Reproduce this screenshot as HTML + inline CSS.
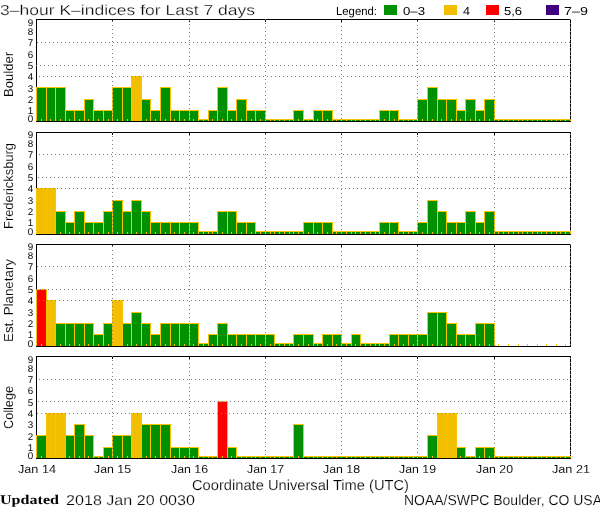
<!DOCTYPE html>
<html><head><meta charset="utf-8"><title>3-hour K-indices for Last 7 days</title><style>
html,body{margin:0;padding:0;background:#fff;width:600px;height:510px;overflow:hidden}
svg{display:block;will-change:transform}
rect,path{shape-rendering:crispEdges}
text{text-rendering:geometricPrecision}

</style></head><body>
<svg width="600" height="510" viewBox="0 0 600 510" font-family="&quot;Liberation Sans&quot;, sans-serif" fill="#000">
<!-- Boulder -->
<rect x="36" y="19" width="535" height="1" fill="#000"/>
<rect x="36" y="19" width="1" height="103" fill="#000"/>
<rect x="570" y="19" width="1" height="103" fill="#000"/>
<path d="M112 20h1v2h-1zM189 20h1v2h-1zM265 20h1v2h-1zM341 20h1v2h-1zM417 20h1v2h-1zM494 20h1v2h-1z" fill="#000"/>
<rect x="36" y="87" width="11" height="34" fill="#fcc400"/>
<rect x="37" y="88" width="9" height="33" fill="#009000"/>
<rect x="46" y="87" width="10" height="34" fill="#fcc400"/>
<rect x="47" y="88" width="8" height="33" fill="#009000"/>
<rect x="55" y="87" width="11" height="34" fill="#fcc400"/>
<rect x="56" y="88" width="9" height="33" fill="#009000"/>
<rect x="65" y="110" width="10" height="11" fill="#fcc400"/>
<rect x="66" y="111" width="8" height="10" fill="#009000"/>
<rect x="74" y="110" width="11" height="11" fill="#fcc400"/>
<rect x="75" y="111" width="9" height="10" fill="#009000"/>
<rect x="84" y="99" width="10" height="22" fill="#fcc400"/>
<rect x="85" y="100" width="8" height="21" fill="#009000"/>
<rect x="93" y="110" width="11" height="11" fill="#fcc400"/>
<rect x="94" y="111" width="9" height="10" fill="#009000"/>
<rect x="103" y="110" width="10" height="11" fill="#fcc400"/>
<rect x="104" y="111" width="8" height="10" fill="#009000"/>
<rect x="112" y="87" width="11" height="34" fill="#fcc400"/>
<rect x="113" y="88" width="9" height="33" fill="#009000"/>
<rect x="122" y="87" width="10" height="34" fill="#fcc400"/>
<rect x="123" y="88" width="8" height="33" fill="#009000"/>
<rect x="131" y="76" width="11" height="45" fill="#fcc400"/>
<rect x="132" y="77" width="9" height="44" fill="#f2be00"/>
<rect x="141" y="99" width="10" height="22" fill="#fcc400"/>
<rect x="142" y="100" width="8" height="21" fill="#009000"/>
<rect x="150" y="110" width="11" height="11" fill="#fcc400"/>
<rect x="151" y="111" width="9" height="10" fill="#009000"/>
<rect x="160" y="87" width="11" height="34" fill="#fcc400"/>
<rect x="161" y="88" width="9" height="33" fill="#009000"/>
<rect x="170" y="110" width="10" height="11" fill="#fcc400"/>
<rect x="171" y="111" width="8" height="10" fill="#009000"/>
<rect x="179" y="110" width="11" height="11" fill="#fcc400"/>
<rect x="180" y="111" width="9" height="10" fill="#009000"/>
<rect x="189" y="110" width="10" height="11" fill="#fcc400"/>
<rect x="190" y="111" width="8" height="10" fill="#009000"/>
<rect x="198" y="119" width="11" height="2" fill="#fcc400"/>
<rect x="199" y="120" width="9" height="1" fill="#009000"/>
<rect x="208" y="110" width="10" height="11" fill="#fcc400"/>
<rect x="209" y="111" width="8" height="10" fill="#009000"/>
<rect x="217" y="87" width="11" height="34" fill="#fcc400"/>
<rect x="218" y="88" width="9" height="33" fill="#009000"/>
<rect x="227" y="110" width="10" height="11" fill="#fcc400"/>
<rect x="228" y="111" width="8" height="10" fill="#009000"/>
<rect x="236" y="99" width="11" height="22" fill="#fcc400"/>
<rect x="237" y="100" width="9" height="21" fill="#009000"/>
<rect x="246" y="110" width="10" height="11" fill="#fcc400"/>
<rect x="247" y="111" width="8" height="10" fill="#009000"/>
<rect x="255" y="110" width="11" height="11" fill="#fcc400"/>
<rect x="256" y="111" width="9" height="10" fill="#009000"/>
<rect x="265" y="119" width="10" height="2" fill="#fcc400"/>
<rect x="266" y="120" width="8" height="1" fill="#009000"/>
<rect x="274" y="119" width="11" height="2" fill="#fcc400"/>
<rect x="275" y="120" width="9" height="1" fill="#009000"/>
<rect x="284" y="119" width="10" height="2" fill="#fcc400"/>
<rect x="285" y="120" width="8" height="1" fill="#009000"/>
<rect x="293" y="110" width="11" height="11" fill="#fcc400"/>
<rect x="294" y="111" width="9" height="10" fill="#009000"/>
<rect x="303" y="119" width="11" height="2" fill="#fcc400"/>
<rect x="304" y="120" width="9" height="1" fill="#009000"/>
<rect x="313" y="110" width="10" height="11" fill="#fcc400"/>
<rect x="314" y="111" width="8" height="10" fill="#009000"/>
<rect x="322" y="110" width="11" height="11" fill="#fcc400"/>
<rect x="323" y="111" width="9" height="10" fill="#009000"/>
<rect x="332" y="119" width="10" height="2" fill="#fcc400"/>
<rect x="333" y="120" width="8" height="1" fill="#009000"/>
<rect x="341" y="119" width="11" height="2" fill="#fcc400"/>
<rect x="342" y="120" width="9" height="1" fill="#009000"/>
<rect x="351" y="119" width="10" height="2" fill="#fcc400"/>
<rect x="352" y="120" width="8" height="1" fill="#009000"/>
<rect x="360" y="119" width="11" height="2" fill="#fcc400"/>
<rect x="361" y="120" width="9" height="1" fill="#009000"/>
<rect x="370" y="119" width="10" height="2" fill="#fcc400"/>
<rect x="371" y="120" width="8" height="1" fill="#009000"/>
<rect x="379" y="110" width="11" height="11" fill="#fcc400"/>
<rect x="380" y="111" width="9" height="10" fill="#009000"/>
<rect x="389" y="110" width="10" height="11" fill="#fcc400"/>
<rect x="390" y="111" width="8" height="10" fill="#009000"/>
<rect x="398" y="119" width="11" height="2" fill="#fcc400"/>
<rect x="399" y="120" width="9" height="1" fill="#009000"/>
<rect x="408" y="119" width="10" height="2" fill="#fcc400"/>
<rect x="409" y="120" width="8" height="1" fill="#009000"/>
<rect x="417" y="99" width="11" height="22" fill="#fcc400"/>
<rect x="418" y="100" width="9" height="21" fill="#009000"/>
<rect x="427" y="87" width="11" height="34" fill="#fcc400"/>
<rect x="428" y="88" width="9" height="33" fill="#009000"/>
<rect x="437" y="99" width="10" height="22" fill="#fcc400"/>
<rect x="438" y="100" width="8" height="21" fill="#009000"/>
<rect x="446" y="99" width="11" height="22" fill="#fcc400"/>
<rect x="447" y="100" width="9" height="21" fill="#009000"/>
<rect x="456" y="110" width="10" height="11" fill="#fcc400"/>
<rect x="457" y="111" width="8" height="10" fill="#009000"/>
<rect x="465" y="99" width="11" height="22" fill="#fcc400"/>
<rect x="466" y="100" width="9" height="21" fill="#009000"/>
<rect x="475" y="110" width="10" height="11" fill="#fcc400"/>
<rect x="476" y="111" width="8" height="10" fill="#009000"/>
<rect x="484" y="99" width="11" height="22" fill="#fcc400"/>
<rect x="485" y="100" width="9" height="21" fill="#009000"/>
<rect x="494" y="119" width="10" height="2" fill="#fcc400"/>
<rect x="495" y="120" width="8" height="1" fill="#009000"/>
<rect x="503" y="119" width="11" height="2" fill="#fcc400"/>
<rect x="504" y="120" width="9" height="1" fill="#009000"/>
<rect x="513" y="119" width="10" height="2" fill="#fcc400"/>
<rect x="514" y="120" width="8" height="1" fill="#009000"/>
<rect x="522" y="119" width="11" height="2" fill="#fcc400"/>
<rect x="523" y="120" width="9" height="1" fill="#009000"/>
<rect x="532" y="119" width="10" height="2" fill="#fcc400"/>
<rect x="533" y="120" width="8" height="1" fill="#009000"/>
<rect x="541" y="119" width="11" height="2" fill="#fcc400"/>
<rect x="542" y="120" width="9" height="1" fill="#009000"/>
<rect x="551" y="119" width="10" height="2" fill="#fcc400"/>
<rect x="552" y="120" width="8" height="1" fill="#009000"/>
<rect x="560" y="119" width="11" height="2" fill="#fcc400"/>
<rect x="561" y="120" width="9" height="1" fill="#009000"/>
<path d="M41 119h1v2h-1zM50 119h1v2h-1zM60 119h1v2h-1zM69 119h1v2h-1zM79 119h1v2h-1zM88 119h1v2h-1zM98 119h1v2h-1zM108 119h1v2h-1zM117 119h1v2h-1zM127 119h1v2h-1zM136 119h1v2h-1zM146 119h1v2h-1zM155 119h1v2h-1zM165 119h1v2h-1zM174 119h1v2h-1zM184 119h1v2h-1zM193 119h1v2h-1zM203 119h1v2h-1zM212 119h1v2h-1zM222 119h1v2h-1zM231 119h1v2h-1zM241 119h1v2h-1zM251 119h1v2h-1zM260 119h1v2h-1zM270 119h1v2h-1zM279 119h1v2h-1zM289 119h1v2h-1zM298 119h1v2h-1zM308 119h1v2h-1zM317 119h1v2h-1zM327 119h1v2h-1zM336 119h1v2h-1zM346 119h1v2h-1zM355 119h1v2h-1zM365 119h1v2h-1zM375 119h1v2h-1zM384 119h1v2h-1zM394 119h1v2h-1zM403 119h1v2h-1zM413 119h1v2h-1zM422 119h1v2h-1zM432 119h1v2h-1zM441 119h1v2h-1zM451 119h1v2h-1zM460 119h1v2h-1zM470 119h1v2h-1zM479 119h1v2h-1zM489 119h1v2h-1zM498 119h1v2h-1zM508 119h1v2h-1zM518 119h1v2h-1zM527 119h1v2h-1zM537 119h1v2h-1zM546 119h1v2h-1zM556 119h1v2h-1zM565 119h1v2h-1z" fill="#fcc400"/>
<rect x="36" y="121" width="535" height="1" fill="#000"/>
<path d="M37 42h1v1h-1zM41 42h1v1h-1zM45 42h1v1h-1zM49 42h1v1h-1zM53 42h1v1h-1zM57 42h1v1h-1zM61 42h1v1h-1zM65 42h1v1h-1zM69 42h1v1h-1zM73 42h1v1h-1zM77 42h1v1h-1zM81 42h1v1h-1zM85 42h1v1h-1zM89 42h1v1h-1zM93 42h1v1h-1zM97 42h1v1h-1zM101 42h1v1h-1zM105 42h1v1h-1zM109 42h1v1h-1zM113 42h1v1h-1zM117 42h1v1h-1zM121 42h1v1h-1zM125 42h1v1h-1zM129 42h1v1h-1zM133 42h1v1h-1zM137 42h1v1h-1zM141 42h1v1h-1zM145 42h1v1h-1zM149 42h1v1h-1zM153 42h1v1h-1zM157 42h1v1h-1zM161 42h1v1h-1zM165 42h1v1h-1zM169 42h1v1h-1zM173 42h1v1h-1zM177 42h1v1h-1zM181 42h1v1h-1zM185 42h1v1h-1zM189 42h1v1h-1zM193 42h1v1h-1zM197 42h1v1h-1zM201 42h1v1h-1zM205 42h1v1h-1zM209 42h1v1h-1zM213 42h1v1h-1zM217 42h1v1h-1zM221 42h1v1h-1zM225 42h1v1h-1zM229 42h1v1h-1zM233 42h1v1h-1zM237 42h1v1h-1zM241 42h1v1h-1zM245 42h1v1h-1zM249 42h1v1h-1zM253 42h1v1h-1zM257 42h1v1h-1zM261 42h1v1h-1zM265 42h1v1h-1zM269 42h1v1h-1zM273 42h1v1h-1zM277 42h1v1h-1zM281 42h1v1h-1zM285 42h1v1h-1zM289 42h1v1h-1zM293 42h1v1h-1zM297 42h1v1h-1zM301 42h1v1h-1zM305 42h1v1h-1zM309 42h1v1h-1zM313 42h1v1h-1zM317 42h1v1h-1zM321 42h1v1h-1zM325 42h1v1h-1zM329 42h1v1h-1zM333 42h1v1h-1zM337 42h1v1h-1zM341 42h1v1h-1zM345 42h1v1h-1zM349 42h1v1h-1zM353 42h1v1h-1zM357 42h1v1h-1zM361 42h1v1h-1zM365 42h1v1h-1zM369 42h1v1h-1zM373 42h1v1h-1zM377 42h1v1h-1zM381 42h1v1h-1zM385 42h1v1h-1zM389 42h1v1h-1zM393 42h1v1h-1zM397 42h1v1h-1zM401 42h1v1h-1zM405 42h1v1h-1zM409 42h1v1h-1zM413 42h1v1h-1zM417 42h1v1h-1zM421 42h1v1h-1zM425 42h1v1h-1zM429 42h1v1h-1zM433 42h1v1h-1zM437 42h1v1h-1zM441 42h1v1h-1zM445 42h1v1h-1zM449 42h1v1h-1zM453 42h1v1h-1zM457 42h1v1h-1zM461 42h1v1h-1zM465 42h1v1h-1zM469 42h1v1h-1zM473 42h1v1h-1zM477 42h1v1h-1zM481 42h1v1h-1zM485 42h1v1h-1zM489 42h1v1h-1zM493 42h1v1h-1zM497 42h1v1h-1zM501 42h1v1h-1zM505 42h1v1h-1zM509 42h1v1h-1zM513 42h1v1h-1zM517 42h1v1h-1zM521 42h1v1h-1zM525 42h1v1h-1zM529 42h1v1h-1zM533 42h1v1h-1zM537 42h1v1h-1zM541 42h1v1h-1zM545 42h1v1h-1zM549 42h1v1h-1zM553 42h1v1h-1zM557 42h1v1h-1zM561 42h1v1h-1zM565 42h1v1h-1zM569 42h1v1h-1zM36 65h1v1h-1zM40 65h1v1h-1zM44 65h1v1h-1zM48 65h1v1h-1zM52 65h1v1h-1zM56 65h1v1h-1zM60 65h1v1h-1zM64 65h1v1h-1zM68 65h1v1h-1zM72 65h1v1h-1zM76 65h1v1h-1zM80 65h1v1h-1zM84 65h1v1h-1zM88 65h1v1h-1zM92 65h1v1h-1zM96 65h1v1h-1zM100 65h1v1h-1zM104 65h1v1h-1zM108 65h1v1h-1zM112 65h1v1h-1zM116 65h1v1h-1zM120 65h1v1h-1zM124 65h1v1h-1zM128 65h1v1h-1zM132 65h1v1h-1zM136 65h1v1h-1zM140 65h1v1h-1zM144 65h1v1h-1zM148 65h1v1h-1zM152 65h1v1h-1zM156 65h1v1h-1zM160 65h1v1h-1zM164 65h1v1h-1zM168 65h1v1h-1zM172 65h1v1h-1zM176 65h1v1h-1zM180 65h1v1h-1zM184 65h1v1h-1zM188 65h1v1h-1zM192 65h1v1h-1zM196 65h1v1h-1zM200 65h1v1h-1zM204 65h1v1h-1zM208 65h1v1h-1zM212 65h1v1h-1zM216 65h1v1h-1zM220 65h1v1h-1zM224 65h1v1h-1zM228 65h1v1h-1zM232 65h1v1h-1zM236 65h1v1h-1zM240 65h1v1h-1zM244 65h1v1h-1zM248 65h1v1h-1zM252 65h1v1h-1zM256 65h1v1h-1zM260 65h1v1h-1zM264 65h1v1h-1zM268 65h1v1h-1zM272 65h1v1h-1zM276 65h1v1h-1zM280 65h1v1h-1zM284 65h1v1h-1zM288 65h1v1h-1zM292 65h1v1h-1zM296 65h1v1h-1zM300 65h1v1h-1zM304 65h1v1h-1zM308 65h1v1h-1zM312 65h1v1h-1zM316 65h1v1h-1zM320 65h1v1h-1zM324 65h1v1h-1zM328 65h1v1h-1zM332 65h1v1h-1zM336 65h1v1h-1zM340 65h1v1h-1zM344 65h1v1h-1zM348 65h1v1h-1zM352 65h1v1h-1zM356 65h1v1h-1zM360 65h1v1h-1zM364 65h1v1h-1zM368 65h1v1h-1zM372 65h1v1h-1zM376 65h1v1h-1zM380 65h1v1h-1zM384 65h1v1h-1zM388 65h1v1h-1zM392 65h1v1h-1zM396 65h1v1h-1zM400 65h1v1h-1zM404 65h1v1h-1zM408 65h1v1h-1zM412 65h1v1h-1zM416 65h1v1h-1zM420 65h1v1h-1zM424 65h1v1h-1zM428 65h1v1h-1zM432 65h1v1h-1zM436 65h1v1h-1zM440 65h1v1h-1zM444 65h1v1h-1zM448 65h1v1h-1zM452 65h1v1h-1zM456 65h1v1h-1zM460 65h1v1h-1zM464 65h1v1h-1zM468 65h1v1h-1zM472 65h1v1h-1zM476 65h1v1h-1zM480 65h1v1h-1zM484 65h1v1h-1zM488 65h1v1h-1zM492 65h1v1h-1zM496 65h1v1h-1zM500 65h1v1h-1zM504 65h1v1h-1zM508 65h1v1h-1zM512 65h1v1h-1zM516 65h1v1h-1zM520 65h1v1h-1zM524 65h1v1h-1zM528 65h1v1h-1zM532 65h1v1h-1zM536 65h1v1h-1zM540 65h1v1h-1zM544 65h1v1h-1zM548 65h1v1h-1zM552 65h1v1h-1zM556 65h1v1h-1zM560 65h1v1h-1zM564 65h1v1h-1zM568 65h1v1h-1zM39 76h1v1h-1zM43 76h1v1h-1zM47 76h1v1h-1zM51 76h1v1h-1zM55 76h1v1h-1zM59 76h1v1h-1zM63 76h1v1h-1zM67 76h1v1h-1zM71 76h1v1h-1zM75 76h1v1h-1zM79 76h1v1h-1zM83 76h1v1h-1zM87 76h1v1h-1zM91 76h1v1h-1zM95 76h1v1h-1zM99 76h1v1h-1zM103 76h1v1h-1zM107 76h1v1h-1zM111 76h1v1h-1zM115 76h1v1h-1zM119 76h1v1h-1zM123 76h1v1h-1zM127 76h1v1h-1zM131 76h1v1h-1zM135 76h1v1h-1zM139 76h1v1h-1zM143 76h1v1h-1zM147 76h1v1h-1zM151 76h1v1h-1zM155 76h1v1h-1zM159 76h1v1h-1zM163 76h1v1h-1zM167 76h1v1h-1zM171 76h1v1h-1zM175 76h1v1h-1zM179 76h1v1h-1zM183 76h1v1h-1zM187 76h1v1h-1zM191 76h1v1h-1zM195 76h1v1h-1zM199 76h1v1h-1zM203 76h1v1h-1zM207 76h1v1h-1zM211 76h1v1h-1zM215 76h1v1h-1zM219 76h1v1h-1zM223 76h1v1h-1zM227 76h1v1h-1zM231 76h1v1h-1zM235 76h1v1h-1zM239 76h1v1h-1zM243 76h1v1h-1zM247 76h1v1h-1zM251 76h1v1h-1zM255 76h1v1h-1zM259 76h1v1h-1zM263 76h1v1h-1zM267 76h1v1h-1zM271 76h1v1h-1zM275 76h1v1h-1zM279 76h1v1h-1zM283 76h1v1h-1zM287 76h1v1h-1zM291 76h1v1h-1zM295 76h1v1h-1zM299 76h1v1h-1zM303 76h1v1h-1zM307 76h1v1h-1zM311 76h1v1h-1zM315 76h1v1h-1zM319 76h1v1h-1zM323 76h1v1h-1zM327 76h1v1h-1zM331 76h1v1h-1zM335 76h1v1h-1zM339 76h1v1h-1zM343 76h1v1h-1zM347 76h1v1h-1zM351 76h1v1h-1zM355 76h1v1h-1zM359 76h1v1h-1zM363 76h1v1h-1zM367 76h1v1h-1zM371 76h1v1h-1zM375 76h1v1h-1zM379 76h1v1h-1zM383 76h1v1h-1zM387 76h1v1h-1zM391 76h1v1h-1zM395 76h1v1h-1zM399 76h1v1h-1zM403 76h1v1h-1zM407 76h1v1h-1zM411 76h1v1h-1zM415 76h1v1h-1zM419 76h1v1h-1zM423 76h1v1h-1zM427 76h1v1h-1zM431 76h1v1h-1zM435 76h1v1h-1zM439 76h1v1h-1zM443 76h1v1h-1zM447 76h1v1h-1zM451 76h1v1h-1zM455 76h1v1h-1zM459 76h1v1h-1zM463 76h1v1h-1zM467 76h1v1h-1zM471 76h1v1h-1zM475 76h1v1h-1zM479 76h1v1h-1zM483 76h1v1h-1zM487 76h1v1h-1zM491 76h1v1h-1zM495 76h1v1h-1zM499 76h1v1h-1zM503 76h1v1h-1zM507 76h1v1h-1zM511 76h1v1h-1zM515 76h1v1h-1zM519 76h1v1h-1zM523 76h1v1h-1zM527 76h1v1h-1zM531 76h1v1h-1zM535 76h1v1h-1zM539 76h1v1h-1zM543 76h1v1h-1zM547 76h1v1h-1zM551 76h1v1h-1zM555 76h1v1h-1zM559 76h1v1h-1zM563 76h1v1h-1zM567 76h1v1h-1zM112 21h1v1h-1zM112 25h1v1h-1zM112 29h1v1h-1zM112 33h1v1h-1zM112 37h1v1h-1zM112 41h1v1h-1zM112 45h1v1h-1zM112 49h1v1h-1zM112 53h1v1h-1zM112 57h1v1h-1zM112 61h1v1h-1zM112 65h1v1h-1zM112 69h1v1h-1zM112 73h1v1h-1zM112 77h1v1h-1zM112 81h1v1h-1zM112 85h1v1h-1zM112 89h1v1h-1zM112 93h1v1h-1zM112 97h1v1h-1zM112 101h1v1h-1zM112 105h1v1h-1zM112 109h1v1h-1zM112 113h1v1h-1zM112 117h1v1h-1zM189 20h1v1h-1zM189 24h1v1h-1zM189 28h1v1h-1zM189 32h1v1h-1zM189 36h1v1h-1zM189 40h1v1h-1zM189 44h1v1h-1zM189 48h1v1h-1zM189 52h1v1h-1zM189 56h1v1h-1zM189 60h1v1h-1zM189 64h1v1h-1zM189 68h1v1h-1zM189 72h1v1h-1zM189 76h1v1h-1zM189 80h1v1h-1zM189 84h1v1h-1zM189 88h1v1h-1zM189 92h1v1h-1zM189 96h1v1h-1zM189 100h1v1h-1zM189 104h1v1h-1zM189 108h1v1h-1zM189 112h1v1h-1zM189 116h1v1h-1zM189 120h1v1h-1zM265 19h1v1h-1zM265 23h1v1h-1zM265 27h1v1h-1zM265 31h1v1h-1zM265 35h1v1h-1zM265 39h1v1h-1zM265 43h1v1h-1zM265 47h1v1h-1zM265 51h1v1h-1zM265 55h1v1h-1zM265 59h1v1h-1zM265 63h1v1h-1zM265 67h1v1h-1zM265 71h1v1h-1zM265 75h1v1h-1zM265 79h1v1h-1zM265 83h1v1h-1zM265 87h1v1h-1zM265 91h1v1h-1zM265 95h1v1h-1zM265 99h1v1h-1zM265 103h1v1h-1zM265 107h1v1h-1zM265 111h1v1h-1zM265 115h1v1h-1zM265 119h1v1h-1zM341 22h1v1h-1zM341 26h1v1h-1zM341 30h1v1h-1zM341 34h1v1h-1zM341 38h1v1h-1zM341 42h1v1h-1zM341 46h1v1h-1zM341 50h1v1h-1zM341 54h1v1h-1zM341 58h1v1h-1zM341 62h1v1h-1zM341 66h1v1h-1zM341 70h1v1h-1zM341 74h1v1h-1zM341 78h1v1h-1zM341 82h1v1h-1zM341 86h1v1h-1zM341 90h1v1h-1zM341 94h1v1h-1zM341 98h1v1h-1zM341 102h1v1h-1zM341 106h1v1h-1zM341 110h1v1h-1zM341 114h1v1h-1zM341 118h1v1h-1zM417 21h1v1h-1zM417 25h1v1h-1zM417 29h1v1h-1zM417 33h1v1h-1zM417 37h1v1h-1zM417 41h1v1h-1zM417 45h1v1h-1zM417 49h1v1h-1zM417 53h1v1h-1zM417 57h1v1h-1zM417 61h1v1h-1zM417 65h1v1h-1zM417 69h1v1h-1zM417 73h1v1h-1zM417 77h1v1h-1zM417 81h1v1h-1zM417 85h1v1h-1zM417 89h1v1h-1zM417 93h1v1h-1zM417 97h1v1h-1zM417 101h1v1h-1zM417 105h1v1h-1zM417 109h1v1h-1zM417 113h1v1h-1zM417 117h1v1h-1zM494 20h1v1h-1zM494 24h1v1h-1zM494 28h1v1h-1zM494 32h1v1h-1zM494 36h1v1h-1zM494 40h1v1h-1zM494 44h1v1h-1zM494 48h1v1h-1zM494 52h1v1h-1zM494 56h1v1h-1zM494 60h1v1h-1zM494 64h1v1h-1zM494 68h1v1h-1zM494 72h1v1h-1zM494 76h1v1h-1zM494 80h1v1h-1zM494 84h1v1h-1zM494 88h1v1h-1zM494 92h1v1h-1zM494 96h1v1h-1zM494 100h1v1h-1zM494 104h1v1h-1zM494 108h1v1h-1zM494 112h1v1h-1zM494 116h1v1h-1zM494 120h1v1h-1zM570 19h1v1h-1zM570 23h1v1h-1zM570 27h1v1h-1zM570 31h1v1h-1zM570 35h1v1h-1zM570 39h1v1h-1zM570 43h1v1h-1zM570 47h1v1h-1zM570 51h1v1h-1zM570 55h1v1h-1zM570 59h1v1h-1zM570 63h1v1h-1zM570 67h1v1h-1zM570 71h1v1h-1zM570 75h1v1h-1zM570 79h1v1h-1zM570 83h1v1h-1zM570 87h1v1h-1zM570 91h1v1h-1zM570 95h1v1h-1zM570 99h1v1h-1zM570 103h1v1h-1zM570 107h1v1h-1zM570 111h1v1h-1zM570 115h1v1h-1zM570 119h1v1h-1z" fill="#808080"/>
<text x="30.5" y="121.5" font-size="9.8" text-anchor="middle">0</text>
<text x="30.5" y="113.5" font-size="9.8" text-anchor="middle">1</text>
<text x="30.5" y="102.5" font-size="9.8" text-anchor="middle">2</text>
<text x="30.5" y="91.5" font-size="9.8" text-anchor="middle">3</text>
<text x="30.5" y="79.5" font-size="9.8" text-anchor="middle">4</text>
<text x="30.5" y="68.5" font-size="9.8" text-anchor="middle">5</text>
<text x="30.5" y="57.5" font-size="9.8" text-anchor="middle">6</text>
<text x="30.5" y="45.5" font-size="9.8" text-anchor="middle">7</text>
<text x="30.5" y="34.5" font-size="9.8" text-anchor="middle">8</text>
<text x="30.5" y="25.5" font-size="9.8" text-anchor="middle">9</text>
<text x="0" y="0" transform="translate(13,97.0) rotate(-90)" font-size="13.1" textLength="45.0" lengthAdjust="spacingAndGlyphs" stroke="#fff" stroke-width="0.1">Boulder</text>
<!-- Fredericksburg -->
<rect x="36" y="132" width="535" height="1" fill="#000"/>
<rect x="36" y="132" width="1" height="103" fill="#000"/>
<rect x="570" y="132" width="1" height="103" fill="#000"/>
<path d="M112 133h1v2h-1zM189 133h1v2h-1zM265 133h1v2h-1zM341 133h1v2h-1zM417 133h1v2h-1zM494 133h1v2h-1z" fill="#000"/>
<rect x="36" y="188" width="11" height="46" fill="#fcc400"/>
<rect x="37" y="189" width="9" height="45" fill="#f2be00"/>
<rect x="46" y="188" width="10" height="46" fill="#fcc400"/>
<rect x="47" y="189" width="8" height="45" fill="#f2be00"/>
<rect x="55" y="211" width="11" height="23" fill="#fcc400"/>
<rect x="56" y="212" width="9" height="22" fill="#009000"/>
<rect x="65" y="222" width="10" height="12" fill="#fcc400"/>
<rect x="66" y="223" width="8" height="11" fill="#009000"/>
<rect x="74" y="211" width="11" height="23" fill="#fcc400"/>
<rect x="75" y="212" width="9" height="22" fill="#009000"/>
<rect x="84" y="222" width="10" height="12" fill="#fcc400"/>
<rect x="85" y="223" width="8" height="11" fill="#009000"/>
<rect x="93" y="222" width="11" height="12" fill="#fcc400"/>
<rect x="94" y="223" width="9" height="11" fill="#009000"/>
<rect x="103" y="211" width="10" height="23" fill="#fcc400"/>
<rect x="104" y="212" width="8" height="22" fill="#009000"/>
<rect x="112" y="200" width="11" height="34" fill="#fcc400"/>
<rect x="113" y="201" width="9" height="33" fill="#009000"/>
<rect x="122" y="211" width="10" height="23" fill="#fcc400"/>
<rect x="123" y="212" width="8" height="22" fill="#009000"/>
<rect x="131" y="200" width="11" height="34" fill="#fcc400"/>
<rect x="132" y="201" width="9" height="33" fill="#009000"/>
<rect x="141" y="211" width="10" height="23" fill="#fcc400"/>
<rect x="142" y="212" width="8" height="22" fill="#009000"/>
<rect x="150" y="222" width="11" height="12" fill="#fcc400"/>
<rect x="151" y="223" width="9" height="11" fill="#009000"/>
<rect x="160" y="222" width="11" height="12" fill="#fcc400"/>
<rect x="161" y="223" width="9" height="11" fill="#009000"/>
<rect x="170" y="222" width="10" height="12" fill="#fcc400"/>
<rect x="171" y="223" width="8" height="11" fill="#009000"/>
<rect x="179" y="222" width="11" height="12" fill="#fcc400"/>
<rect x="180" y="223" width="9" height="11" fill="#009000"/>
<rect x="189" y="222" width="10" height="12" fill="#fcc400"/>
<rect x="190" y="223" width="8" height="11" fill="#009000"/>
<rect x="198" y="231" width="11" height="3" fill="#fcc400"/>
<rect x="199" y="232" width="9" height="2" fill="#009000"/>
<rect x="208" y="231" width="10" height="3" fill="#fcc400"/>
<rect x="209" y="232" width="8" height="2" fill="#009000"/>
<rect x="217" y="211" width="11" height="23" fill="#fcc400"/>
<rect x="218" y="212" width="9" height="22" fill="#009000"/>
<rect x="227" y="211" width="10" height="23" fill="#fcc400"/>
<rect x="228" y="212" width="8" height="22" fill="#009000"/>
<rect x="236" y="222" width="11" height="12" fill="#fcc400"/>
<rect x="237" y="223" width="9" height="11" fill="#009000"/>
<rect x="246" y="222" width="10" height="12" fill="#fcc400"/>
<rect x="247" y="223" width="8" height="11" fill="#009000"/>
<rect x="255" y="231" width="11" height="3" fill="#fcc400"/>
<rect x="256" y="232" width="9" height="2" fill="#009000"/>
<rect x="265" y="231" width="10" height="3" fill="#fcc400"/>
<rect x="266" y="232" width="8" height="2" fill="#009000"/>
<rect x="274" y="231" width="11" height="3" fill="#fcc400"/>
<rect x="275" y="232" width="9" height="2" fill="#009000"/>
<rect x="284" y="231" width="10" height="3" fill="#fcc400"/>
<rect x="285" y="232" width="8" height="2" fill="#009000"/>
<rect x="293" y="231" width="11" height="3" fill="#fcc400"/>
<rect x="294" y="232" width="9" height="2" fill="#009000"/>
<rect x="303" y="222" width="11" height="12" fill="#fcc400"/>
<rect x="304" y="223" width="9" height="11" fill="#009000"/>
<rect x="313" y="222" width="10" height="12" fill="#fcc400"/>
<rect x="314" y="223" width="8" height="11" fill="#009000"/>
<rect x="322" y="222" width="11" height="12" fill="#fcc400"/>
<rect x="323" y="223" width="9" height="11" fill="#009000"/>
<rect x="332" y="231" width="10" height="3" fill="#fcc400"/>
<rect x="333" y="232" width="8" height="2" fill="#009000"/>
<rect x="341" y="231" width="11" height="3" fill="#fcc400"/>
<rect x="342" y="232" width="9" height="2" fill="#009000"/>
<rect x="351" y="231" width="10" height="3" fill="#fcc400"/>
<rect x="352" y="232" width="8" height="2" fill="#009000"/>
<rect x="360" y="231" width="11" height="3" fill="#fcc400"/>
<rect x="361" y="232" width="9" height="2" fill="#009000"/>
<rect x="370" y="231" width="10" height="3" fill="#fcc400"/>
<rect x="371" y="232" width="8" height="2" fill="#009000"/>
<rect x="379" y="222" width="11" height="12" fill="#fcc400"/>
<rect x="380" y="223" width="9" height="11" fill="#009000"/>
<rect x="389" y="222" width="10" height="12" fill="#fcc400"/>
<rect x="390" y="223" width="8" height="11" fill="#009000"/>
<rect x="398" y="231" width="11" height="3" fill="#fcc400"/>
<rect x="399" y="232" width="9" height="2" fill="#009000"/>
<rect x="408" y="231" width="10" height="3" fill="#fcc400"/>
<rect x="409" y="232" width="8" height="2" fill="#009000"/>
<rect x="417" y="222" width="11" height="12" fill="#fcc400"/>
<rect x="418" y="223" width="9" height="11" fill="#009000"/>
<rect x="427" y="200" width="11" height="34" fill="#fcc400"/>
<rect x="428" y="201" width="9" height="33" fill="#009000"/>
<rect x="437" y="211" width="10" height="23" fill="#fcc400"/>
<rect x="438" y="212" width="8" height="22" fill="#009000"/>
<rect x="446" y="222" width="11" height="12" fill="#fcc400"/>
<rect x="447" y="223" width="9" height="11" fill="#009000"/>
<rect x="456" y="222" width="10" height="12" fill="#fcc400"/>
<rect x="457" y="223" width="8" height="11" fill="#009000"/>
<rect x="465" y="211" width="11" height="23" fill="#fcc400"/>
<rect x="466" y="212" width="9" height="22" fill="#009000"/>
<rect x="475" y="222" width="10" height="12" fill="#fcc400"/>
<rect x="476" y="223" width="8" height="11" fill="#009000"/>
<rect x="484" y="211" width="11" height="23" fill="#fcc400"/>
<rect x="485" y="212" width="9" height="22" fill="#009000"/>
<rect x="494" y="231" width="10" height="3" fill="#fcc400"/>
<rect x="495" y="232" width="8" height="2" fill="#009000"/>
<rect x="503" y="231" width="11" height="3" fill="#fcc400"/>
<rect x="504" y="232" width="9" height="2" fill="#009000"/>
<rect x="513" y="231" width="10" height="3" fill="#fcc400"/>
<rect x="514" y="232" width="8" height="2" fill="#009000"/>
<rect x="522" y="231" width="11" height="3" fill="#fcc400"/>
<rect x="523" y="232" width="9" height="2" fill="#009000"/>
<rect x="532" y="231" width="10" height="3" fill="#fcc400"/>
<rect x="533" y="232" width="8" height="2" fill="#009000"/>
<rect x="541" y="231" width="11" height="3" fill="#fcc400"/>
<rect x="542" y="232" width="9" height="2" fill="#009000"/>
<rect x="551" y="231" width="10" height="3" fill="#fcc400"/>
<rect x="552" y="232" width="8" height="2" fill="#009000"/>
<rect x="560" y="231" width="11" height="3" fill="#fcc400"/>
<rect x="561" y="232" width="9" height="2" fill="#009000"/>
<path d="M41 232h1v2h-1zM50 232h1v2h-1zM60 232h1v2h-1zM69 232h1v2h-1zM79 232h1v2h-1zM88 232h1v2h-1zM98 232h1v2h-1zM108 232h1v2h-1zM117 232h1v2h-1zM127 232h1v2h-1zM136 232h1v2h-1zM146 232h1v2h-1zM155 232h1v2h-1zM165 232h1v2h-1zM174 232h1v2h-1zM184 232h1v2h-1zM193 232h1v2h-1zM203 232h1v2h-1zM212 232h1v2h-1zM222 232h1v2h-1zM231 232h1v2h-1zM241 232h1v2h-1zM251 232h1v2h-1zM260 232h1v2h-1zM270 232h1v2h-1zM279 232h1v2h-1zM289 232h1v2h-1zM298 232h1v2h-1zM308 232h1v2h-1zM317 232h1v2h-1zM327 232h1v2h-1zM336 232h1v2h-1zM346 232h1v2h-1zM355 232h1v2h-1zM365 232h1v2h-1zM375 232h1v2h-1zM384 232h1v2h-1zM394 232h1v2h-1zM403 232h1v2h-1zM413 232h1v2h-1zM422 232h1v2h-1zM432 232h1v2h-1zM441 232h1v2h-1zM451 232h1v2h-1zM460 232h1v2h-1zM470 232h1v2h-1zM479 232h1v2h-1zM489 232h1v2h-1zM498 232h1v2h-1zM508 232h1v2h-1zM518 232h1v2h-1zM527 232h1v2h-1zM537 232h1v2h-1zM546 232h1v2h-1zM556 232h1v2h-1zM565 232h1v2h-1z" fill="#fcc400"/>
<rect x="36" y="234" width="535" height="1" fill="#000"/>
<path d="M39 154h1v1h-1zM43 154h1v1h-1zM47 154h1v1h-1zM51 154h1v1h-1zM55 154h1v1h-1zM59 154h1v1h-1zM63 154h1v1h-1zM67 154h1v1h-1zM71 154h1v1h-1zM75 154h1v1h-1zM79 154h1v1h-1zM83 154h1v1h-1zM87 154h1v1h-1zM91 154h1v1h-1zM95 154h1v1h-1zM99 154h1v1h-1zM103 154h1v1h-1zM107 154h1v1h-1zM111 154h1v1h-1zM115 154h1v1h-1zM119 154h1v1h-1zM123 154h1v1h-1zM127 154h1v1h-1zM131 154h1v1h-1zM135 154h1v1h-1zM139 154h1v1h-1zM143 154h1v1h-1zM147 154h1v1h-1zM151 154h1v1h-1zM155 154h1v1h-1zM159 154h1v1h-1zM163 154h1v1h-1zM167 154h1v1h-1zM171 154h1v1h-1zM175 154h1v1h-1zM179 154h1v1h-1zM183 154h1v1h-1zM187 154h1v1h-1zM191 154h1v1h-1zM195 154h1v1h-1zM199 154h1v1h-1zM203 154h1v1h-1zM207 154h1v1h-1zM211 154h1v1h-1zM215 154h1v1h-1zM219 154h1v1h-1zM223 154h1v1h-1zM227 154h1v1h-1zM231 154h1v1h-1zM235 154h1v1h-1zM239 154h1v1h-1zM243 154h1v1h-1zM247 154h1v1h-1zM251 154h1v1h-1zM255 154h1v1h-1zM259 154h1v1h-1zM263 154h1v1h-1zM267 154h1v1h-1zM271 154h1v1h-1zM275 154h1v1h-1zM279 154h1v1h-1zM283 154h1v1h-1zM287 154h1v1h-1zM291 154h1v1h-1zM295 154h1v1h-1zM299 154h1v1h-1zM303 154h1v1h-1zM307 154h1v1h-1zM311 154h1v1h-1zM315 154h1v1h-1zM319 154h1v1h-1zM323 154h1v1h-1zM327 154h1v1h-1zM331 154h1v1h-1zM335 154h1v1h-1zM339 154h1v1h-1zM343 154h1v1h-1zM347 154h1v1h-1zM351 154h1v1h-1zM355 154h1v1h-1zM359 154h1v1h-1zM363 154h1v1h-1zM367 154h1v1h-1zM371 154h1v1h-1zM375 154h1v1h-1zM379 154h1v1h-1zM383 154h1v1h-1zM387 154h1v1h-1zM391 154h1v1h-1zM395 154h1v1h-1zM399 154h1v1h-1zM403 154h1v1h-1zM407 154h1v1h-1zM411 154h1v1h-1zM415 154h1v1h-1zM419 154h1v1h-1zM423 154h1v1h-1zM427 154h1v1h-1zM431 154h1v1h-1zM435 154h1v1h-1zM439 154h1v1h-1zM443 154h1v1h-1zM447 154h1v1h-1zM451 154h1v1h-1zM455 154h1v1h-1zM459 154h1v1h-1zM463 154h1v1h-1zM467 154h1v1h-1zM471 154h1v1h-1zM475 154h1v1h-1zM479 154h1v1h-1zM483 154h1v1h-1zM487 154h1v1h-1zM491 154h1v1h-1zM495 154h1v1h-1zM499 154h1v1h-1zM503 154h1v1h-1zM507 154h1v1h-1zM511 154h1v1h-1zM515 154h1v1h-1zM519 154h1v1h-1zM523 154h1v1h-1zM527 154h1v1h-1zM531 154h1v1h-1zM535 154h1v1h-1zM539 154h1v1h-1zM543 154h1v1h-1zM547 154h1v1h-1zM551 154h1v1h-1zM555 154h1v1h-1zM559 154h1v1h-1zM563 154h1v1h-1zM567 154h1v1h-1zM38 177h1v1h-1zM42 177h1v1h-1zM46 177h1v1h-1zM50 177h1v1h-1zM54 177h1v1h-1zM58 177h1v1h-1zM62 177h1v1h-1zM66 177h1v1h-1zM70 177h1v1h-1zM74 177h1v1h-1zM78 177h1v1h-1zM82 177h1v1h-1zM86 177h1v1h-1zM90 177h1v1h-1zM94 177h1v1h-1zM98 177h1v1h-1zM102 177h1v1h-1zM106 177h1v1h-1zM110 177h1v1h-1zM114 177h1v1h-1zM118 177h1v1h-1zM122 177h1v1h-1zM126 177h1v1h-1zM130 177h1v1h-1zM134 177h1v1h-1zM138 177h1v1h-1zM142 177h1v1h-1zM146 177h1v1h-1zM150 177h1v1h-1zM154 177h1v1h-1zM158 177h1v1h-1zM162 177h1v1h-1zM166 177h1v1h-1zM170 177h1v1h-1zM174 177h1v1h-1zM178 177h1v1h-1zM182 177h1v1h-1zM186 177h1v1h-1zM190 177h1v1h-1zM194 177h1v1h-1zM198 177h1v1h-1zM202 177h1v1h-1zM206 177h1v1h-1zM210 177h1v1h-1zM214 177h1v1h-1zM218 177h1v1h-1zM222 177h1v1h-1zM226 177h1v1h-1zM230 177h1v1h-1zM234 177h1v1h-1zM238 177h1v1h-1zM242 177h1v1h-1zM246 177h1v1h-1zM250 177h1v1h-1zM254 177h1v1h-1zM258 177h1v1h-1zM262 177h1v1h-1zM266 177h1v1h-1zM270 177h1v1h-1zM274 177h1v1h-1zM278 177h1v1h-1zM282 177h1v1h-1zM286 177h1v1h-1zM290 177h1v1h-1zM294 177h1v1h-1zM298 177h1v1h-1zM302 177h1v1h-1zM306 177h1v1h-1zM310 177h1v1h-1zM314 177h1v1h-1zM318 177h1v1h-1zM322 177h1v1h-1zM326 177h1v1h-1zM330 177h1v1h-1zM334 177h1v1h-1zM338 177h1v1h-1zM342 177h1v1h-1zM346 177h1v1h-1zM350 177h1v1h-1zM354 177h1v1h-1zM358 177h1v1h-1zM362 177h1v1h-1zM366 177h1v1h-1zM370 177h1v1h-1zM374 177h1v1h-1zM378 177h1v1h-1zM382 177h1v1h-1zM386 177h1v1h-1zM390 177h1v1h-1zM394 177h1v1h-1zM398 177h1v1h-1zM402 177h1v1h-1zM406 177h1v1h-1zM410 177h1v1h-1zM414 177h1v1h-1zM418 177h1v1h-1zM422 177h1v1h-1zM426 177h1v1h-1zM430 177h1v1h-1zM434 177h1v1h-1zM438 177h1v1h-1zM442 177h1v1h-1zM446 177h1v1h-1zM450 177h1v1h-1zM454 177h1v1h-1zM458 177h1v1h-1zM462 177h1v1h-1zM466 177h1v1h-1zM470 177h1v1h-1zM474 177h1v1h-1zM478 177h1v1h-1zM482 177h1v1h-1zM486 177h1v1h-1zM490 177h1v1h-1zM494 177h1v1h-1zM498 177h1v1h-1zM502 177h1v1h-1zM506 177h1v1h-1zM510 177h1v1h-1zM514 177h1v1h-1zM518 177h1v1h-1zM522 177h1v1h-1zM526 177h1v1h-1zM530 177h1v1h-1zM534 177h1v1h-1zM538 177h1v1h-1zM542 177h1v1h-1zM546 177h1v1h-1zM550 177h1v1h-1zM554 177h1v1h-1zM558 177h1v1h-1zM562 177h1v1h-1zM566 177h1v1h-1zM37 188h1v1h-1zM41 188h1v1h-1zM45 188h1v1h-1zM49 188h1v1h-1zM53 188h1v1h-1zM57 188h1v1h-1zM61 188h1v1h-1zM65 188h1v1h-1zM69 188h1v1h-1zM73 188h1v1h-1zM77 188h1v1h-1zM81 188h1v1h-1zM85 188h1v1h-1zM89 188h1v1h-1zM93 188h1v1h-1zM97 188h1v1h-1zM101 188h1v1h-1zM105 188h1v1h-1zM109 188h1v1h-1zM113 188h1v1h-1zM117 188h1v1h-1zM121 188h1v1h-1zM125 188h1v1h-1zM129 188h1v1h-1zM133 188h1v1h-1zM137 188h1v1h-1zM141 188h1v1h-1zM145 188h1v1h-1zM149 188h1v1h-1zM153 188h1v1h-1zM157 188h1v1h-1zM161 188h1v1h-1zM165 188h1v1h-1zM169 188h1v1h-1zM173 188h1v1h-1zM177 188h1v1h-1zM181 188h1v1h-1zM185 188h1v1h-1zM189 188h1v1h-1zM193 188h1v1h-1zM197 188h1v1h-1zM201 188h1v1h-1zM205 188h1v1h-1zM209 188h1v1h-1zM213 188h1v1h-1zM217 188h1v1h-1zM221 188h1v1h-1zM225 188h1v1h-1zM229 188h1v1h-1zM233 188h1v1h-1zM237 188h1v1h-1zM241 188h1v1h-1zM245 188h1v1h-1zM249 188h1v1h-1zM253 188h1v1h-1zM257 188h1v1h-1zM261 188h1v1h-1zM265 188h1v1h-1zM269 188h1v1h-1zM273 188h1v1h-1zM277 188h1v1h-1zM281 188h1v1h-1zM285 188h1v1h-1zM289 188h1v1h-1zM293 188h1v1h-1zM297 188h1v1h-1zM301 188h1v1h-1zM305 188h1v1h-1zM309 188h1v1h-1zM313 188h1v1h-1zM317 188h1v1h-1zM321 188h1v1h-1zM325 188h1v1h-1zM329 188h1v1h-1zM333 188h1v1h-1zM337 188h1v1h-1zM341 188h1v1h-1zM345 188h1v1h-1zM349 188h1v1h-1zM353 188h1v1h-1zM357 188h1v1h-1zM361 188h1v1h-1zM365 188h1v1h-1zM369 188h1v1h-1zM373 188h1v1h-1zM377 188h1v1h-1zM381 188h1v1h-1zM385 188h1v1h-1zM389 188h1v1h-1zM393 188h1v1h-1zM397 188h1v1h-1zM401 188h1v1h-1zM405 188h1v1h-1zM409 188h1v1h-1zM413 188h1v1h-1zM417 188h1v1h-1zM421 188h1v1h-1zM425 188h1v1h-1zM429 188h1v1h-1zM433 188h1v1h-1zM437 188h1v1h-1zM441 188h1v1h-1zM445 188h1v1h-1zM449 188h1v1h-1zM453 188h1v1h-1zM457 188h1v1h-1zM461 188h1v1h-1zM465 188h1v1h-1zM469 188h1v1h-1zM473 188h1v1h-1zM477 188h1v1h-1zM481 188h1v1h-1zM485 188h1v1h-1zM489 188h1v1h-1zM493 188h1v1h-1zM497 188h1v1h-1zM501 188h1v1h-1zM505 188h1v1h-1zM509 188h1v1h-1zM513 188h1v1h-1zM517 188h1v1h-1zM521 188h1v1h-1zM525 188h1v1h-1zM529 188h1v1h-1zM533 188h1v1h-1zM537 188h1v1h-1zM541 188h1v1h-1zM545 188h1v1h-1zM549 188h1v1h-1zM553 188h1v1h-1zM557 188h1v1h-1zM561 188h1v1h-1zM565 188h1v1h-1zM569 188h1v1h-1zM112 132h1v1h-1zM112 136h1v1h-1zM112 140h1v1h-1zM112 144h1v1h-1zM112 148h1v1h-1zM112 152h1v1h-1zM112 156h1v1h-1zM112 160h1v1h-1zM112 164h1v1h-1zM112 168h1v1h-1zM112 172h1v1h-1zM112 176h1v1h-1zM112 180h1v1h-1zM112 184h1v1h-1zM112 188h1v1h-1zM112 192h1v1h-1zM112 196h1v1h-1zM112 200h1v1h-1zM112 204h1v1h-1zM112 208h1v1h-1zM112 212h1v1h-1zM112 216h1v1h-1zM112 220h1v1h-1zM112 224h1v1h-1zM112 228h1v1h-1zM112 232h1v1h-1zM189 135h1v1h-1zM189 139h1v1h-1zM189 143h1v1h-1zM189 147h1v1h-1zM189 151h1v1h-1zM189 155h1v1h-1zM189 159h1v1h-1zM189 163h1v1h-1zM189 167h1v1h-1zM189 171h1v1h-1zM189 175h1v1h-1zM189 179h1v1h-1zM189 183h1v1h-1zM189 187h1v1h-1zM189 191h1v1h-1zM189 195h1v1h-1zM189 199h1v1h-1zM189 203h1v1h-1zM189 207h1v1h-1zM189 211h1v1h-1zM189 215h1v1h-1zM189 219h1v1h-1zM189 223h1v1h-1zM189 227h1v1h-1zM189 231h1v1h-1zM265 134h1v1h-1zM265 138h1v1h-1zM265 142h1v1h-1zM265 146h1v1h-1zM265 150h1v1h-1zM265 154h1v1h-1zM265 158h1v1h-1zM265 162h1v1h-1zM265 166h1v1h-1zM265 170h1v1h-1zM265 174h1v1h-1zM265 178h1v1h-1zM265 182h1v1h-1zM265 186h1v1h-1zM265 190h1v1h-1zM265 194h1v1h-1zM265 198h1v1h-1zM265 202h1v1h-1zM265 206h1v1h-1zM265 210h1v1h-1zM265 214h1v1h-1zM265 218h1v1h-1zM265 222h1v1h-1zM265 226h1v1h-1zM265 230h1v1h-1zM341 133h1v1h-1zM341 137h1v1h-1zM341 141h1v1h-1zM341 145h1v1h-1zM341 149h1v1h-1zM341 153h1v1h-1zM341 157h1v1h-1zM341 161h1v1h-1zM341 165h1v1h-1zM341 169h1v1h-1zM341 173h1v1h-1zM341 177h1v1h-1zM341 181h1v1h-1zM341 185h1v1h-1zM341 189h1v1h-1zM341 193h1v1h-1zM341 197h1v1h-1zM341 201h1v1h-1zM341 205h1v1h-1zM341 209h1v1h-1zM341 213h1v1h-1zM341 217h1v1h-1zM341 221h1v1h-1zM341 225h1v1h-1zM341 229h1v1h-1zM341 233h1v1h-1zM417 132h1v1h-1zM417 136h1v1h-1zM417 140h1v1h-1zM417 144h1v1h-1zM417 148h1v1h-1zM417 152h1v1h-1zM417 156h1v1h-1zM417 160h1v1h-1zM417 164h1v1h-1zM417 168h1v1h-1zM417 172h1v1h-1zM417 176h1v1h-1zM417 180h1v1h-1zM417 184h1v1h-1zM417 188h1v1h-1zM417 192h1v1h-1zM417 196h1v1h-1zM417 200h1v1h-1zM417 204h1v1h-1zM417 208h1v1h-1zM417 212h1v1h-1zM417 216h1v1h-1zM417 220h1v1h-1zM417 224h1v1h-1zM417 228h1v1h-1zM417 232h1v1h-1zM494 135h1v1h-1zM494 139h1v1h-1zM494 143h1v1h-1zM494 147h1v1h-1zM494 151h1v1h-1zM494 155h1v1h-1zM494 159h1v1h-1zM494 163h1v1h-1zM494 167h1v1h-1zM494 171h1v1h-1zM494 175h1v1h-1zM494 179h1v1h-1zM494 183h1v1h-1zM494 187h1v1h-1zM494 191h1v1h-1zM494 195h1v1h-1zM494 199h1v1h-1zM494 203h1v1h-1zM494 207h1v1h-1zM494 211h1v1h-1zM494 215h1v1h-1zM494 219h1v1h-1zM494 223h1v1h-1zM494 227h1v1h-1zM494 231h1v1h-1zM570 134h1v1h-1zM570 138h1v1h-1zM570 142h1v1h-1zM570 146h1v1h-1zM570 150h1v1h-1zM570 154h1v1h-1zM570 158h1v1h-1zM570 162h1v1h-1zM570 166h1v1h-1zM570 170h1v1h-1zM570 174h1v1h-1zM570 178h1v1h-1zM570 182h1v1h-1zM570 186h1v1h-1zM570 190h1v1h-1zM570 194h1v1h-1zM570 198h1v1h-1zM570 202h1v1h-1zM570 206h1v1h-1zM570 210h1v1h-1zM570 214h1v1h-1zM570 218h1v1h-1zM570 222h1v1h-1zM570 226h1v1h-1zM570 230h1v1h-1z" fill="#808080"/>
<text x="30.5" y="234.5" font-size="9.8" text-anchor="middle">0</text>
<text x="30.5" y="225.5" font-size="9.8" text-anchor="middle">1</text>
<text x="30.5" y="214.5" font-size="9.8" text-anchor="middle">2</text>
<text x="30.5" y="203.5" font-size="9.8" text-anchor="middle">3</text>
<text x="30.5" y="191.5" font-size="9.8" text-anchor="middle">4</text>
<text x="30.5" y="180.5" font-size="9.8" text-anchor="middle">5</text>
<text x="30.5" y="169.5" font-size="9.8" text-anchor="middle">6</text>
<text x="30.5" y="157.5" font-size="9.8" text-anchor="middle">7</text>
<text x="30.5" y="146.5" font-size="9.8" text-anchor="middle">8</text>
<text x="30.5" y="137.5" font-size="9.8" text-anchor="middle">9</text>
<text x="0" y="0" transform="translate(13,229.0) rotate(-90)" font-size="13.1" textLength="86.0" lengthAdjust="spacingAndGlyphs" stroke="#fff" stroke-width="0.1">Fredericksburg</text>
<!-- Est. Planetary -->
<rect x="36" y="244" width="535" height="1" fill="#000"/>
<rect x="36" y="244" width="1" height="103" fill="#000"/>
<rect x="570" y="244" width="1" height="103" fill="#000"/>
<path d="M112 245h1v2h-1zM189 245h1v2h-1zM265 245h1v2h-1zM341 245h1v2h-1zM417 245h1v2h-1zM494 245h1v2h-1z" fill="#000"/>
<rect x="36" y="289" width="11" height="57" fill="#fcc400"/>
<rect x="37" y="290" width="9" height="56" fill="#ff0000"/>
<rect x="46" y="300" width="10" height="46" fill="#fcc400"/>
<rect x="47" y="301" width="8" height="45" fill="#f2be00"/>
<rect x="55" y="323" width="11" height="23" fill="#fcc400"/>
<rect x="56" y="324" width="9" height="22" fill="#009000"/>
<rect x="65" y="323" width="10" height="23" fill="#fcc400"/>
<rect x="66" y="324" width="8" height="22" fill="#009000"/>
<rect x="74" y="323" width="11" height="23" fill="#fcc400"/>
<rect x="75" y="324" width="9" height="22" fill="#009000"/>
<rect x="84" y="323" width="10" height="23" fill="#fcc400"/>
<rect x="85" y="324" width="8" height="22" fill="#009000"/>
<rect x="93" y="334" width="11" height="12" fill="#fcc400"/>
<rect x="94" y="335" width="9" height="11" fill="#009000"/>
<rect x="103" y="323" width="10" height="23" fill="#fcc400"/>
<rect x="104" y="324" width="8" height="22" fill="#009000"/>
<rect x="112" y="300" width="11" height="46" fill="#fcc400"/>
<rect x="113" y="301" width="9" height="45" fill="#f2be00"/>
<rect x="122" y="323" width="10" height="23" fill="#fcc400"/>
<rect x="123" y="324" width="8" height="22" fill="#009000"/>
<rect x="131" y="312" width="11" height="34" fill="#fcc400"/>
<rect x="132" y="313" width="9" height="33" fill="#009000"/>
<rect x="141" y="323" width="10" height="23" fill="#fcc400"/>
<rect x="142" y="324" width="8" height="22" fill="#009000"/>
<rect x="150" y="334" width="11" height="12" fill="#fcc400"/>
<rect x="151" y="335" width="9" height="11" fill="#009000"/>
<rect x="160" y="323" width="11" height="23" fill="#fcc400"/>
<rect x="161" y="324" width="9" height="22" fill="#009000"/>
<rect x="170" y="323" width="10" height="23" fill="#fcc400"/>
<rect x="171" y="324" width="8" height="22" fill="#009000"/>
<rect x="179" y="323" width="11" height="23" fill="#fcc400"/>
<rect x="180" y="324" width="9" height="22" fill="#009000"/>
<rect x="189" y="323" width="10" height="23" fill="#fcc400"/>
<rect x="190" y="324" width="8" height="22" fill="#009000"/>
<rect x="198" y="343" width="11" height="3" fill="#fcc400"/>
<rect x="199" y="344" width="9" height="2" fill="#009000"/>
<rect x="208" y="334" width="10" height="12" fill="#fcc400"/>
<rect x="209" y="335" width="8" height="11" fill="#009000"/>
<rect x="217" y="323" width="11" height="23" fill="#fcc400"/>
<rect x="218" y="324" width="9" height="22" fill="#009000"/>
<rect x="227" y="334" width="10" height="12" fill="#fcc400"/>
<rect x="228" y="335" width="8" height="11" fill="#009000"/>
<rect x="236" y="334" width="11" height="12" fill="#fcc400"/>
<rect x="237" y="335" width="9" height="11" fill="#009000"/>
<rect x="246" y="334" width="10" height="12" fill="#fcc400"/>
<rect x="247" y="335" width="8" height="11" fill="#009000"/>
<rect x="255" y="334" width="11" height="12" fill="#fcc400"/>
<rect x="256" y="335" width="9" height="11" fill="#009000"/>
<rect x="265" y="334" width="10" height="12" fill="#fcc400"/>
<rect x="266" y="335" width="8" height="11" fill="#009000"/>
<rect x="274" y="343" width="11" height="3" fill="#fcc400"/>
<rect x="275" y="344" width="9" height="2" fill="#009000"/>
<rect x="284" y="343" width="10" height="3" fill="#fcc400"/>
<rect x="285" y="344" width="8" height="2" fill="#009000"/>
<rect x="293" y="334" width="11" height="12" fill="#fcc400"/>
<rect x="294" y="335" width="9" height="11" fill="#009000"/>
<rect x="303" y="334" width="11" height="12" fill="#fcc400"/>
<rect x="304" y="335" width="9" height="11" fill="#009000"/>
<rect x="313" y="343" width="10" height="3" fill="#fcc400"/>
<rect x="314" y="344" width="8" height="2" fill="#009000"/>
<rect x="322" y="334" width="11" height="12" fill="#fcc400"/>
<rect x="323" y="335" width="9" height="11" fill="#009000"/>
<rect x="332" y="334" width="10" height="12" fill="#fcc400"/>
<rect x="333" y="335" width="8" height="11" fill="#009000"/>
<rect x="341" y="343" width="11" height="3" fill="#fcc400"/>
<rect x="342" y="344" width="9" height="2" fill="#009000"/>
<rect x="351" y="334" width="10" height="12" fill="#fcc400"/>
<rect x="352" y="335" width="8" height="11" fill="#009000"/>
<rect x="360" y="343" width="11" height="3" fill="#fcc400"/>
<rect x="361" y="344" width="9" height="2" fill="#009000"/>
<rect x="370" y="343" width="10" height="3" fill="#fcc400"/>
<rect x="371" y="344" width="8" height="2" fill="#009000"/>
<rect x="379" y="343" width="11" height="3" fill="#fcc400"/>
<rect x="380" y="344" width="9" height="2" fill="#009000"/>
<rect x="389" y="334" width="10" height="12" fill="#fcc400"/>
<rect x="390" y="335" width="8" height="11" fill="#009000"/>
<rect x="398" y="334" width="11" height="12" fill="#fcc400"/>
<rect x="399" y="335" width="9" height="11" fill="#009000"/>
<rect x="408" y="334" width="10" height="12" fill="#fcc400"/>
<rect x="409" y="335" width="8" height="11" fill="#009000"/>
<rect x="417" y="334" width="11" height="12" fill="#fcc400"/>
<rect x="418" y="335" width="9" height="11" fill="#009000"/>
<rect x="427" y="312" width="11" height="34" fill="#fcc400"/>
<rect x="428" y="313" width="9" height="33" fill="#009000"/>
<rect x="437" y="312" width="10" height="34" fill="#fcc400"/>
<rect x="438" y="313" width="8" height="33" fill="#009000"/>
<rect x="446" y="323" width="11" height="23" fill="#fcc400"/>
<rect x="447" y="324" width="9" height="22" fill="#009000"/>
<rect x="456" y="334" width="10" height="12" fill="#fcc400"/>
<rect x="457" y="335" width="8" height="11" fill="#009000"/>
<rect x="465" y="334" width="11" height="12" fill="#fcc400"/>
<rect x="466" y="335" width="9" height="11" fill="#009000"/>
<rect x="475" y="323" width="10" height="23" fill="#fcc400"/>
<rect x="476" y="324" width="8" height="22" fill="#009000"/>
<rect x="484" y="323" width="11" height="23" fill="#fcc400"/>
<rect x="485" y="324" width="9" height="22" fill="#009000"/>
<path d="M41 344h1v2h-1zM50 344h1v2h-1zM60 344h1v2h-1zM69 344h1v2h-1zM79 344h1v2h-1zM88 344h1v2h-1zM98 344h1v2h-1zM108 344h1v2h-1zM117 344h1v2h-1zM127 344h1v2h-1zM136 344h1v2h-1zM146 344h1v2h-1zM155 344h1v2h-1zM165 344h1v2h-1zM174 344h1v2h-1zM184 344h1v2h-1zM193 344h1v2h-1zM203 344h1v2h-1zM212 344h1v2h-1zM222 344h1v2h-1zM231 344h1v2h-1zM241 344h1v2h-1zM251 344h1v2h-1zM260 344h1v2h-1zM270 344h1v2h-1zM279 344h1v2h-1zM289 344h1v2h-1zM298 344h1v2h-1zM308 344h1v2h-1zM317 344h1v2h-1zM327 344h1v2h-1zM336 344h1v2h-1zM346 344h1v2h-1zM355 344h1v2h-1zM365 344h1v2h-1zM375 344h1v2h-1zM384 344h1v2h-1zM394 344h1v2h-1zM403 344h1v2h-1zM413 344h1v2h-1zM422 344h1v2h-1zM432 344h1v2h-1zM441 344h1v2h-1zM451 344h1v2h-1zM460 344h1v2h-1zM470 344h1v2h-1zM479 344h1v2h-1zM489 344h1v2h-1zM498 344h1v2h-1zM508 344h1v2h-1zM518 344h1v2h-1zM527 344h1v2h-1zM537 344h1v2h-1zM546 344h1v2h-1zM556 344h1v2h-1zM565 344h1v2h-1z" fill="#fcc400"/>
<rect x="36" y="346" width="535" height="1" fill="#000"/>
<path d="M37 266h1v1h-1zM41 266h1v1h-1zM45 266h1v1h-1zM49 266h1v1h-1zM53 266h1v1h-1zM57 266h1v1h-1zM61 266h1v1h-1zM65 266h1v1h-1zM69 266h1v1h-1zM73 266h1v1h-1zM77 266h1v1h-1zM81 266h1v1h-1zM85 266h1v1h-1zM89 266h1v1h-1zM93 266h1v1h-1zM97 266h1v1h-1zM101 266h1v1h-1zM105 266h1v1h-1zM109 266h1v1h-1zM113 266h1v1h-1zM117 266h1v1h-1zM121 266h1v1h-1zM125 266h1v1h-1zM129 266h1v1h-1zM133 266h1v1h-1zM137 266h1v1h-1zM141 266h1v1h-1zM145 266h1v1h-1zM149 266h1v1h-1zM153 266h1v1h-1zM157 266h1v1h-1zM161 266h1v1h-1zM165 266h1v1h-1zM169 266h1v1h-1zM173 266h1v1h-1zM177 266h1v1h-1zM181 266h1v1h-1zM185 266h1v1h-1zM189 266h1v1h-1zM193 266h1v1h-1zM197 266h1v1h-1zM201 266h1v1h-1zM205 266h1v1h-1zM209 266h1v1h-1zM213 266h1v1h-1zM217 266h1v1h-1zM221 266h1v1h-1zM225 266h1v1h-1zM229 266h1v1h-1zM233 266h1v1h-1zM237 266h1v1h-1zM241 266h1v1h-1zM245 266h1v1h-1zM249 266h1v1h-1zM253 266h1v1h-1zM257 266h1v1h-1zM261 266h1v1h-1zM265 266h1v1h-1zM269 266h1v1h-1zM273 266h1v1h-1zM277 266h1v1h-1zM281 266h1v1h-1zM285 266h1v1h-1zM289 266h1v1h-1zM293 266h1v1h-1zM297 266h1v1h-1zM301 266h1v1h-1zM305 266h1v1h-1zM309 266h1v1h-1zM313 266h1v1h-1zM317 266h1v1h-1zM321 266h1v1h-1zM325 266h1v1h-1zM329 266h1v1h-1zM333 266h1v1h-1zM337 266h1v1h-1zM341 266h1v1h-1zM345 266h1v1h-1zM349 266h1v1h-1zM353 266h1v1h-1zM357 266h1v1h-1zM361 266h1v1h-1zM365 266h1v1h-1zM369 266h1v1h-1zM373 266h1v1h-1zM377 266h1v1h-1zM381 266h1v1h-1zM385 266h1v1h-1zM389 266h1v1h-1zM393 266h1v1h-1zM397 266h1v1h-1zM401 266h1v1h-1zM405 266h1v1h-1zM409 266h1v1h-1zM413 266h1v1h-1zM417 266h1v1h-1zM421 266h1v1h-1zM425 266h1v1h-1zM429 266h1v1h-1zM433 266h1v1h-1zM437 266h1v1h-1zM441 266h1v1h-1zM445 266h1v1h-1zM449 266h1v1h-1zM453 266h1v1h-1zM457 266h1v1h-1zM461 266h1v1h-1zM465 266h1v1h-1zM469 266h1v1h-1zM473 266h1v1h-1zM477 266h1v1h-1zM481 266h1v1h-1zM485 266h1v1h-1zM489 266h1v1h-1zM493 266h1v1h-1zM497 266h1v1h-1zM501 266h1v1h-1zM505 266h1v1h-1zM509 266h1v1h-1zM513 266h1v1h-1zM517 266h1v1h-1zM521 266h1v1h-1zM525 266h1v1h-1zM529 266h1v1h-1zM533 266h1v1h-1zM537 266h1v1h-1zM541 266h1v1h-1zM545 266h1v1h-1zM549 266h1v1h-1zM553 266h1v1h-1zM557 266h1v1h-1zM561 266h1v1h-1zM565 266h1v1h-1zM569 266h1v1h-1zM36 289h1v1h-1zM40 289h1v1h-1zM44 289h1v1h-1zM48 289h1v1h-1zM52 289h1v1h-1zM56 289h1v1h-1zM60 289h1v1h-1zM64 289h1v1h-1zM68 289h1v1h-1zM72 289h1v1h-1zM76 289h1v1h-1zM80 289h1v1h-1zM84 289h1v1h-1zM88 289h1v1h-1zM92 289h1v1h-1zM96 289h1v1h-1zM100 289h1v1h-1zM104 289h1v1h-1zM108 289h1v1h-1zM112 289h1v1h-1zM116 289h1v1h-1zM120 289h1v1h-1zM124 289h1v1h-1zM128 289h1v1h-1zM132 289h1v1h-1zM136 289h1v1h-1zM140 289h1v1h-1zM144 289h1v1h-1zM148 289h1v1h-1zM152 289h1v1h-1zM156 289h1v1h-1zM160 289h1v1h-1zM164 289h1v1h-1zM168 289h1v1h-1zM172 289h1v1h-1zM176 289h1v1h-1zM180 289h1v1h-1zM184 289h1v1h-1zM188 289h1v1h-1zM192 289h1v1h-1zM196 289h1v1h-1zM200 289h1v1h-1zM204 289h1v1h-1zM208 289h1v1h-1zM212 289h1v1h-1zM216 289h1v1h-1zM220 289h1v1h-1zM224 289h1v1h-1zM228 289h1v1h-1zM232 289h1v1h-1zM236 289h1v1h-1zM240 289h1v1h-1zM244 289h1v1h-1zM248 289h1v1h-1zM252 289h1v1h-1zM256 289h1v1h-1zM260 289h1v1h-1zM264 289h1v1h-1zM268 289h1v1h-1zM272 289h1v1h-1zM276 289h1v1h-1zM280 289h1v1h-1zM284 289h1v1h-1zM288 289h1v1h-1zM292 289h1v1h-1zM296 289h1v1h-1zM300 289h1v1h-1zM304 289h1v1h-1zM308 289h1v1h-1zM312 289h1v1h-1zM316 289h1v1h-1zM320 289h1v1h-1zM324 289h1v1h-1zM328 289h1v1h-1zM332 289h1v1h-1zM336 289h1v1h-1zM340 289h1v1h-1zM344 289h1v1h-1zM348 289h1v1h-1zM352 289h1v1h-1zM356 289h1v1h-1zM360 289h1v1h-1zM364 289h1v1h-1zM368 289h1v1h-1zM372 289h1v1h-1zM376 289h1v1h-1zM380 289h1v1h-1zM384 289h1v1h-1zM388 289h1v1h-1zM392 289h1v1h-1zM396 289h1v1h-1zM400 289h1v1h-1zM404 289h1v1h-1zM408 289h1v1h-1zM412 289h1v1h-1zM416 289h1v1h-1zM420 289h1v1h-1zM424 289h1v1h-1zM428 289h1v1h-1zM432 289h1v1h-1zM436 289h1v1h-1zM440 289h1v1h-1zM444 289h1v1h-1zM448 289h1v1h-1zM452 289h1v1h-1zM456 289h1v1h-1zM460 289h1v1h-1zM464 289h1v1h-1zM468 289h1v1h-1zM472 289h1v1h-1zM476 289h1v1h-1zM480 289h1v1h-1zM484 289h1v1h-1zM488 289h1v1h-1zM492 289h1v1h-1zM496 289h1v1h-1zM500 289h1v1h-1zM504 289h1v1h-1zM508 289h1v1h-1zM512 289h1v1h-1zM516 289h1v1h-1zM520 289h1v1h-1zM524 289h1v1h-1zM528 289h1v1h-1zM532 289h1v1h-1zM536 289h1v1h-1zM540 289h1v1h-1zM544 289h1v1h-1zM548 289h1v1h-1zM552 289h1v1h-1zM556 289h1v1h-1zM560 289h1v1h-1zM564 289h1v1h-1zM568 289h1v1h-1zM39 300h1v1h-1zM43 300h1v1h-1zM47 300h1v1h-1zM51 300h1v1h-1zM55 300h1v1h-1zM59 300h1v1h-1zM63 300h1v1h-1zM67 300h1v1h-1zM71 300h1v1h-1zM75 300h1v1h-1zM79 300h1v1h-1zM83 300h1v1h-1zM87 300h1v1h-1zM91 300h1v1h-1zM95 300h1v1h-1zM99 300h1v1h-1zM103 300h1v1h-1zM107 300h1v1h-1zM111 300h1v1h-1zM115 300h1v1h-1zM119 300h1v1h-1zM123 300h1v1h-1zM127 300h1v1h-1zM131 300h1v1h-1zM135 300h1v1h-1zM139 300h1v1h-1zM143 300h1v1h-1zM147 300h1v1h-1zM151 300h1v1h-1zM155 300h1v1h-1zM159 300h1v1h-1zM163 300h1v1h-1zM167 300h1v1h-1zM171 300h1v1h-1zM175 300h1v1h-1zM179 300h1v1h-1zM183 300h1v1h-1zM187 300h1v1h-1zM191 300h1v1h-1zM195 300h1v1h-1zM199 300h1v1h-1zM203 300h1v1h-1zM207 300h1v1h-1zM211 300h1v1h-1zM215 300h1v1h-1zM219 300h1v1h-1zM223 300h1v1h-1zM227 300h1v1h-1zM231 300h1v1h-1zM235 300h1v1h-1zM239 300h1v1h-1zM243 300h1v1h-1zM247 300h1v1h-1zM251 300h1v1h-1zM255 300h1v1h-1zM259 300h1v1h-1zM263 300h1v1h-1zM267 300h1v1h-1zM271 300h1v1h-1zM275 300h1v1h-1zM279 300h1v1h-1zM283 300h1v1h-1zM287 300h1v1h-1zM291 300h1v1h-1zM295 300h1v1h-1zM299 300h1v1h-1zM303 300h1v1h-1zM307 300h1v1h-1zM311 300h1v1h-1zM315 300h1v1h-1zM319 300h1v1h-1zM323 300h1v1h-1zM327 300h1v1h-1zM331 300h1v1h-1zM335 300h1v1h-1zM339 300h1v1h-1zM343 300h1v1h-1zM347 300h1v1h-1zM351 300h1v1h-1zM355 300h1v1h-1zM359 300h1v1h-1zM363 300h1v1h-1zM367 300h1v1h-1zM371 300h1v1h-1zM375 300h1v1h-1zM379 300h1v1h-1zM383 300h1v1h-1zM387 300h1v1h-1zM391 300h1v1h-1zM395 300h1v1h-1zM399 300h1v1h-1zM403 300h1v1h-1zM407 300h1v1h-1zM411 300h1v1h-1zM415 300h1v1h-1zM419 300h1v1h-1zM423 300h1v1h-1zM427 300h1v1h-1zM431 300h1v1h-1zM435 300h1v1h-1zM439 300h1v1h-1zM443 300h1v1h-1zM447 300h1v1h-1zM451 300h1v1h-1zM455 300h1v1h-1zM459 300h1v1h-1zM463 300h1v1h-1zM467 300h1v1h-1zM471 300h1v1h-1zM475 300h1v1h-1zM479 300h1v1h-1zM483 300h1v1h-1zM487 300h1v1h-1zM491 300h1v1h-1zM495 300h1v1h-1zM499 300h1v1h-1zM503 300h1v1h-1zM507 300h1v1h-1zM511 300h1v1h-1zM515 300h1v1h-1zM519 300h1v1h-1zM523 300h1v1h-1zM527 300h1v1h-1zM531 300h1v1h-1zM535 300h1v1h-1zM539 300h1v1h-1zM543 300h1v1h-1zM547 300h1v1h-1zM551 300h1v1h-1zM555 300h1v1h-1zM559 300h1v1h-1zM563 300h1v1h-1zM567 300h1v1h-1zM112 246h1v1h-1zM112 250h1v1h-1zM112 254h1v1h-1zM112 258h1v1h-1zM112 262h1v1h-1zM112 266h1v1h-1zM112 270h1v1h-1zM112 274h1v1h-1zM112 278h1v1h-1zM112 282h1v1h-1zM112 286h1v1h-1zM112 290h1v1h-1zM112 294h1v1h-1zM112 298h1v1h-1zM112 302h1v1h-1zM112 306h1v1h-1zM112 310h1v1h-1zM112 314h1v1h-1zM112 318h1v1h-1zM112 322h1v1h-1zM112 326h1v1h-1zM112 330h1v1h-1zM112 334h1v1h-1zM112 338h1v1h-1zM112 342h1v1h-1zM189 245h1v1h-1zM189 249h1v1h-1zM189 253h1v1h-1zM189 257h1v1h-1zM189 261h1v1h-1zM189 265h1v1h-1zM189 269h1v1h-1zM189 273h1v1h-1zM189 277h1v1h-1zM189 281h1v1h-1zM189 285h1v1h-1zM189 289h1v1h-1zM189 293h1v1h-1zM189 297h1v1h-1zM189 301h1v1h-1zM189 305h1v1h-1zM189 309h1v1h-1zM189 313h1v1h-1zM189 317h1v1h-1zM189 321h1v1h-1zM189 325h1v1h-1zM189 329h1v1h-1zM189 333h1v1h-1zM189 337h1v1h-1zM189 341h1v1h-1zM189 345h1v1h-1zM265 244h1v1h-1zM265 248h1v1h-1zM265 252h1v1h-1zM265 256h1v1h-1zM265 260h1v1h-1zM265 264h1v1h-1zM265 268h1v1h-1zM265 272h1v1h-1zM265 276h1v1h-1zM265 280h1v1h-1zM265 284h1v1h-1zM265 288h1v1h-1zM265 292h1v1h-1zM265 296h1v1h-1zM265 300h1v1h-1zM265 304h1v1h-1zM265 308h1v1h-1zM265 312h1v1h-1zM265 316h1v1h-1zM265 320h1v1h-1zM265 324h1v1h-1zM265 328h1v1h-1zM265 332h1v1h-1zM265 336h1v1h-1zM265 340h1v1h-1zM265 344h1v1h-1zM341 247h1v1h-1zM341 251h1v1h-1zM341 255h1v1h-1zM341 259h1v1h-1zM341 263h1v1h-1zM341 267h1v1h-1zM341 271h1v1h-1zM341 275h1v1h-1zM341 279h1v1h-1zM341 283h1v1h-1zM341 287h1v1h-1zM341 291h1v1h-1zM341 295h1v1h-1zM341 299h1v1h-1zM341 303h1v1h-1zM341 307h1v1h-1zM341 311h1v1h-1zM341 315h1v1h-1zM341 319h1v1h-1zM341 323h1v1h-1zM341 327h1v1h-1zM341 331h1v1h-1zM341 335h1v1h-1zM341 339h1v1h-1zM341 343h1v1h-1zM417 246h1v1h-1zM417 250h1v1h-1zM417 254h1v1h-1zM417 258h1v1h-1zM417 262h1v1h-1zM417 266h1v1h-1zM417 270h1v1h-1zM417 274h1v1h-1zM417 278h1v1h-1zM417 282h1v1h-1zM417 286h1v1h-1zM417 290h1v1h-1zM417 294h1v1h-1zM417 298h1v1h-1zM417 302h1v1h-1zM417 306h1v1h-1zM417 310h1v1h-1zM417 314h1v1h-1zM417 318h1v1h-1zM417 322h1v1h-1zM417 326h1v1h-1zM417 330h1v1h-1zM417 334h1v1h-1zM417 338h1v1h-1zM417 342h1v1h-1zM494 245h1v1h-1zM494 249h1v1h-1zM494 253h1v1h-1zM494 257h1v1h-1zM494 261h1v1h-1zM494 265h1v1h-1zM494 269h1v1h-1zM494 273h1v1h-1zM494 277h1v1h-1zM494 281h1v1h-1zM494 285h1v1h-1zM494 289h1v1h-1zM494 293h1v1h-1zM494 297h1v1h-1zM494 301h1v1h-1zM494 305h1v1h-1zM494 309h1v1h-1zM494 313h1v1h-1zM494 317h1v1h-1zM494 321h1v1h-1zM494 325h1v1h-1zM494 329h1v1h-1zM494 333h1v1h-1zM494 337h1v1h-1zM494 341h1v1h-1zM494 345h1v1h-1zM570 244h1v1h-1zM570 248h1v1h-1zM570 252h1v1h-1zM570 256h1v1h-1zM570 260h1v1h-1zM570 264h1v1h-1zM570 268h1v1h-1zM570 272h1v1h-1zM570 276h1v1h-1zM570 280h1v1h-1zM570 284h1v1h-1zM570 288h1v1h-1zM570 292h1v1h-1zM570 296h1v1h-1zM570 300h1v1h-1zM570 304h1v1h-1zM570 308h1v1h-1zM570 312h1v1h-1zM570 316h1v1h-1zM570 320h1v1h-1zM570 324h1v1h-1zM570 328h1v1h-1zM570 332h1v1h-1zM570 336h1v1h-1zM570 340h1v1h-1zM570 344h1v1h-1z" fill="#808080"/>
<text x="30.5" y="346.5" font-size="9.8" text-anchor="middle">0</text>
<text x="30.5" y="337.5" font-size="9.8" text-anchor="middle">1</text>
<text x="30.5" y="326.5" font-size="9.8" text-anchor="middle">2</text>
<text x="30.5" y="315.5" font-size="9.8" text-anchor="middle">3</text>
<text x="30.5" y="303.5" font-size="9.8" text-anchor="middle">4</text>
<text x="30.5" y="292.5" font-size="9.8" text-anchor="middle">5</text>
<text x="30.5" y="281.5" font-size="9.8" text-anchor="middle">6</text>
<text x="30.5" y="269.5" font-size="9.8" text-anchor="middle">7</text>
<text x="30.5" y="258.5" font-size="9.8" text-anchor="middle">8</text>
<text x="30.5" y="249.5" font-size="9.8" text-anchor="middle">9</text>
<text x="0" y="0" transform="translate(13,342.0) rotate(-90)" font-size="13.1" textLength="83.0" lengthAdjust="spacingAndGlyphs" stroke="#fff" stroke-width="0.1">Est. Planetary</text>
<!-- College -->
<rect x="36" y="356" width="535" height="1" fill="#000"/>
<rect x="36" y="356" width="1" height="103" fill="#000"/>
<rect x="570" y="356" width="1" height="103" fill="#000"/>
<path d="M112 357h1v2h-1zM189 357h1v2h-1zM265 357h1v2h-1zM341 357h1v2h-1zM417 357h1v2h-1zM494 357h1v2h-1z" fill="#000"/>
<rect x="36" y="435" width="11" height="23" fill="#fcc400"/>
<rect x="37" y="436" width="9" height="22" fill="#009000"/>
<rect x="46" y="413" width="10" height="45" fill="#fcc400"/>
<rect x="47" y="414" width="8" height="44" fill="#f2be00"/>
<rect x="55" y="413" width="11" height="45" fill="#fcc400"/>
<rect x="56" y="414" width="9" height="44" fill="#f2be00"/>
<rect x="65" y="435" width="10" height="23" fill="#fcc400"/>
<rect x="66" y="436" width="8" height="22" fill="#009000"/>
<rect x="74" y="424" width="11" height="34" fill="#fcc400"/>
<rect x="75" y="425" width="9" height="33" fill="#009000"/>
<rect x="84" y="435" width="10" height="23" fill="#fcc400"/>
<rect x="85" y="436" width="8" height="22" fill="#009000"/>
<rect x="93" y="456" width="11" height="2" fill="#fcc400"/>
<rect x="94" y="457" width="9" height="1" fill="#009000"/>
<rect x="103" y="447" width="10" height="11" fill="#fcc400"/>
<rect x="104" y="448" width="8" height="10" fill="#009000"/>
<rect x="112" y="435" width="11" height="23" fill="#fcc400"/>
<rect x="113" y="436" width="9" height="22" fill="#009000"/>
<rect x="122" y="435" width="10" height="23" fill="#fcc400"/>
<rect x="123" y="436" width="8" height="22" fill="#009000"/>
<rect x="131" y="413" width="11" height="45" fill="#fcc400"/>
<rect x="132" y="414" width="9" height="44" fill="#f2be00"/>
<rect x="141" y="424" width="10" height="34" fill="#fcc400"/>
<rect x="142" y="425" width="8" height="33" fill="#009000"/>
<rect x="150" y="424" width="11" height="34" fill="#fcc400"/>
<rect x="151" y="425" width="9" height="33" fill="#009000"/>
<rect x="160" y="424" width="11" height="34" fill="#fcc400"/>
<rect x="161" y="425" width="9" height="33" fill="#009000"/>
<rect x="170" y="447" width="10" height="11" fill="#fcc400"/>
<rect x="171" y="448" width="8" height="10" fill="#009000"/>
<rect x="179" y="447" width="11" height="11" fill="#fcc400"/>
<rect x="180" y="448" width="9" height="10" fill="#009000"/>
<rect x="189" y="447" width="10" height="11" fill="#fcc400"/>
<rect x="190" y="448" width="8" height="10" fill="#009000"/>
<rect x="198" y="456" width="11" height="2" fill="#fcc400"/>
<rect x="199" y="457" width="9" height="1" fill="#009000"/>
<rect x="208" y="456" width="10" height="2" fill="#fcc400"/>
<rect x="209" y="457" width="8" height="1" fill="#009000"/>
<rect x="217" y="401" width="11" height="57" fill="#fcc400"/>
<rect x="218" y="402" width="9" height="56" fill="#ff0000"/>
<rect x="227" y="447" width="10" height="11" fill="#fcc400"/>
<rect x="228" y="448" width="8" height="10" fill="#009000"/>
<rect x="236" y="456" width="11" height="2" fill="#fcc400"/>
<rect x="237" y="457" width="9" height="1" fill="#009000"/>
<rect x="246" y="456" width="10" height="2" fill="#fcc400"/>
<rect x="247" y="457" width="8" height="1" fill="#009000"/>
<rect x="255" y="456" width="11" height="2" fill="#fcc400"/>
<rect x="256" y="457" width="9" height="1" fill="#009000"/>
<rect x="265" y="456" width="10" height="2" fill="#fcc400"/>
<rect x="266" y="457" width="8" height="1" fill="#009000"/>
<rect x="274" y="456" width="11" height="2" fill="#fcc400"/>
<rect x="275" y="457" width="9" height="1" fill="#009000"/>
<rect x="284" y="456" width="10" height="2" fill="#fcc400"/>
<rect x="285" y="457" width="8" height="1" fill="#009000"/>
<rect x="293" y="424" width="11" height="34" fill="#fcc400"/>
<rect x="294" y="425" width="9" height="33" fill="#009000"/>
<rect x="303" y="456" width="11" height="2" fill="#fcc400"/>
<rect x="304" y="457" width="9" height="1" fill="#009000"/>
<rect x="313" y="456" width="10" height="2" fill="#fcc400"/>
<rect x="314" y="457" width="8" height="1" fill="#009000"/>
<rect x="322" y="456" width="11" height="2" fill="#fcc400"/>
<rect x="323" y="457" width="9" height="1" fill="#009000"/>
<rect x="332" y="456" width="10" height="2" fill="#fcc400"/>
<rect x="333" y="457" width="8" height="1" fill="#009000"/>
<rect x="341" y="456" width="11" height="2" fill="#fcc400"/>
<rect x="342" y="457" width="9" height="1" fill="#009000"/>
<rect x="351" y="456" width="10" height="2" fill="#fcc400"/>
<rect x="352" y="457" width="8" height="1" fill="#009000"/>
<rect x="360" y="456" width="11" height="2" fill="#fcc400"/>
<rect x="361" y="457" width="9" height="1" fill="#009000"/>
<rect x="370" y="456" width="10" height="2" fill="#fcc400"/>
<rect x="371" y="457" width="8" height="1" fill="#009000"/>
<rect x="379" y="456" width="11" height="2" fill="#fcc400"/>
<rect x="380" y="457" width="9" height="1" fill="#009000"/>
<rect x="389" y="456" width="10" height="2" fill="#fcc400"/>
<rect x="390" y="457" width="8" height="1" fill="#009000"/>
<rect x="398" y="456" width="11" height="2" fill="#fcc400"/>
<rect x="399" y="457" width="9" height="1" fill="#009000"/>
<rect x="408" y="456" width="10" height="2" fill="#fcc400"/>
<rect x="409" y="457" width="8" height="1" fill="#009000"/>
<rect x="417" y="456" width="11" height="2" fill="#fcc400"/>
<rect x="418" y="457" width="9" height="1" fill="#009000"/>
<rect x="427" y="435" width="11" height="23" fill="#fcc400"/>
<rect x="428" y="436" width="9" height="22" fill="#009000"/>
<rect x="437" y="413" width="10" height="45" fill="#fcc400"/>
<rect x="438" y="414" width="8" height="44" fill="#f2be00"/>
<rect x="446" y="413" width="11" height="45" fill="#fcc400"/>
<rect x="447" y="414" width="9" height="44" fill="#f2be00"/>
<rect x="456" y="447" width="10" height="11" fill="#fcc400"/>
<rect x="457" y="448" width="8" height="10" fill="#009000"/>
<rect x="465" y="456" width="11" height="2" fill="#fcc400"/>
<rect x="466" y="457" width="9" height="1" fill="#009000"/>
<rect x="475" y="447" width="10" height="11" fill="#fcc400"/>
<rect x="476" y="448" width="8" height="10" fill="#009000"/>
<rect x="484" y="447" width="11" height="11" fill="#fcc400"/>
<rect x="485" y="448" width="9" height="10" fill="#009000"/>
<rect x="494" y="456" width="10" height="2" fill="#fcc400"/>
<rect x="495" y="457" width="8" height="1" fill="#009000"/>
<rect x="503" y="456" width="11" height="2" fill="#fcc400"/>
<rect x="504" y="457" width="9" height="1" fill="#009000"/>
<rect x="513" y="456" width="10" height="2" fill="#fcc400"/>
<rect x="514" y="457" width="8" height="1" fill="#009000"/>
<rect x="522" y="456" width="11" height="2" fill="#fcc400"/>
<rect x="523" y="457" width="9" height="1" fill="#009000"/>
<rect x="532" y="456" width="10" height="2" fill="#fcc400"/>
<rect x="533" y="457" width="8" height="1" fill="#009000"/>
<rect x="541" y="456" width="11" height="2" fill="#fcc400"/>
<rect x="542" y="457" width="9" height="1" fill="#009000"/>
<rect x="551" y="456" width="10" height="2" fill="#fcc400"/>
<rect x="552" y="457" width="8" height="1" fill="#009000"/>
<rect x="560" y="456" width="11" height="2" fill="#fcc400"/>
<rect x="561" y="457" width="9" height="1" fill="#009000"/>
<path d="M41 456h1v2h-1zM50 456h1v2h-1zM60 456h1v2h-1zM69 456h1v2h-1zM79 456h1v2h-1zM88 456h1v2h-1zM98 456h1v2h-1zM108 456h1v2h-1zM117 456h1v2h-1zM127 456h1v2h-1zM136 456h1v2h-1zM146 456h1v2h-1zM155 456h1v2h-1zM165 456h1v2h-1zM174 456h1v2h-1zM184 456h1v2h-1zM193 456h1v2h-1zM203 456h1v2h-1zM212 456h1v2h-1zM222 456h1v2h-1zM231 456h1v2h-1zM241 456h1v2h-1zM251 456h1v2h-1zM260 456h1v2h-1zM270 456h1v2h-1zM279 456h1v2h-1zM289 456h1v2h-1zM298 456h1v2h-1zM308 456h1v2h-1zM317 456h1v2h-1zM327 456h1v2h-1zM336 456h1v2h-1zM346 456h1v2h-1zM355 456h1v2h-1zM365 456h1v2h-1zM375 456h1v2h-1zM384 456h1v2h-1zM394 456h1v2h-1zM403 456h1v2h-1zM413 456h1v2h-1zM422 456h1v2h-1zM432 456h1v2h-1zM441 456h1v2h-1zM451 456h1v2h-1zM460 456h1v2h-1zM470 456h1v2h-1zM479 456h1v2h-1zM489 456h1v2h-1zM498 456h1v2h-1zM508 456h1v2h-1zM518 456h1v2h-1zM527 456h1v2h-1zM537 456h1v2h-1zM546 456h1v2h-1zM556 456h1v2h-1zM565 456h1v2h-1z" fill="#fcc400"/>
<rect x="36" y="458" width="535" height="1" fill="#000"/>
<path d="M39 379h1v1h-1zM43 379h1v1h-1zM47 379h1v1h-1zM51 379h1v1h-1zM55 379h1v1h-1zM59 379h1v1h-1zM63 379h1v1h-1zM67 379h1v1h-1zM71 379h1v1h-1zM75 379h1v1h-1zM79 379h1v1h-1zM83 379h1v1h-1zM87 379h1v1h-1zM91 379h1v1h-1zM95 379h1v1h-1zM99 379h1v1h-1zM103 379h1v1h-1zM107 379h1v1h-1zM111 379h1v1h-1zM115 379h1v1h-1zM119 379h1v1h-1zM123 379h1v1h-1zM127 379h1v1h-1zM131 379h1v1h-1zM135 379h1v1h-1zM139 379h1v1h-1zM143 379h1v1h-1zM147 379h1v1h-1zM151 379h1v1h-1zM155 379h1v1h-1zM159 379h1v1h-1zM163 379h1v1h-1zM167 379h1v1h-1zM171 379h1v1h-1zM175 379h1v1h-1zM179 379h1v1h-1zM183 379h1v1h-1zM187 379h1v1h-1zM191 379h1v1h-1zM195 379h1v1h-1zM199 379h1v1h-1zM203 379h1v1h-1zM207 379h1v1h-1zM211 379h1v1h-1zM215 379h1v1h-1zM219 379h1v1h-1zM223 379h1v1h-1zM227 379h1v1h-1zM231 379h1v1h-1zM235 379h1v1h-1zM239 379h1v1h-1zM243 379h1v1h-1zM247 379h1v1h-1zM251 379h1v1h-1zM255 379h1v1h-1zM259 379h1v1h-1zM263 379h1v1h-1zM267 379h1v1h-1zM271 379h1v1h-1zM275 379h1v1h-1zM279 379h1v1h-1zM283 379h1v1h-1zM287 379h1v1h-1zM291 379h1v1h-1zM295 379h1v1h-1zM299 379h1v1h-1zM303 379h1v1h-1zM307 379h1v1h-1zM311 379h1v1h-1zM315 379h1v1h-1zM319 379h1v1h-1zM323 379h1v1h-1zM327 379h1v1h-1zM331 379h1v1h-1zM335 379h1v1h-1zM339 379h1v1h-1zM343 379h1v1h-1zM347 379h1v1h-1zM351 379h1v1h-1zM355 379h1v1h-1zM359 379h1v1h-1zM363 379h1v1h-1zM367 379h1v1h-1zM371 379h1v1h-1zM375 379h1v1h-1zM379 379h1v1h-1zM383 379h1v1h-1zM387 379h1v1h-1zM391 379h1v1h-1zM395 379h1v1h-1zM399 379h1v1h-1zM403 379h1v1h-1zM407 379h1v1h-1zM411 379h1v1h-1zM415 379h1v1h-1zM419 379h1v1h-1zM423 379h1v1h-1zM427 379h1v1h-1zM431 379h1v1h-1zM435 379h1v1h-1zM439 379h1v1h-1zM443 379h1v1h-1zM447 379h1v1h-1zM451 379h1v1h-1zM455 379h1v1h-1zM459 379h1v1h-1zM463 379h1v1h-1zM467 379h1v1h-1zM471 379h1v1h-1zM475 379h1v1h-1zM479 379h1v1h-1zM483 379h1v1h-1zM487 379h1v1h-1zM491 379h1v1h-1zM495 379h1v1h-1zM499 379h1v1h-1zM503 379h1v1h-1zM507 379h1v1h-1zM511 379h1v1h-1zM515 379h1v1h-1zM519 379h1v1h-1zM523 379h1v1h-1zM527 379h1v1h-1zM531 379h1v1h-1zM535 379h1v1h-1zM539 379h1v1h-1zM543 379h1v1h-1zM547 379h1v1h-1zM551 379h1v1h-1zM555 379h1v1h-1zM559 379h1v1h-1zM563 379h1v1h-1zM567 379h1v1h-1zM38 401h1v1h-1zM42 401h1v1h-1zM46 401h1v1h-1zM50 401h1v1h-1zM54 401h1v1h-1zM58 401h1v1h-1zM62 401h1v1h-1zM66 401h1v1h-1zM70 401h1v1h-1zM74 401h1v1h-1zM78 401h1v1h-1zM82 401h1v1h-1zM86 401h1v1h-1zM90 401h1v1h-1zM94 401h1v1h-1zM98 401h1v1h-1zM102 401h1v1h-1zM106 401h1v1h-1zM110 401h1v1h-1zM114 401h1v1h-1zM118 401h1v1h-1zM122 401h1v1h-1zM126 401h1v1h-1zM130 401h1v1h-1zM134 401h1v1h-1zM138 401h1v1h-1zM142 401h1v1h-1zM146 401h1v1h-1zM150 401h1v1h-1zM154 401h1v1h-1zM158 401h1v1h-1zM162 401h1v1h-1zM166 401h1v1h-1zM170 401h1v1h-1zM174 401h1v1h-1zM178 401h1v1h-1zM182 401h1v1h-1zM186 401h1v1h-1zM190 401h1v1h-1zM194 401h1v1h-1zM198 401h1v1h-1zM202 401h1v1h-1zM206 401h1v1h-1zM210 401h1v1h-1zM214 401h1v1h-1zM218 401h1v1h-1zM222 401h1v1h-1zM226 401h1v1h-1zM230 401h1v1h-1zM234 401h1v1h-1zM238 401h1v1h-1zM242 401h1v1h-1zM246 401h1v1h-1zM250 401h1v1h-1zM254 401h1v1h-1zM258 401h1v1h-1zM262 401h1v1h-1zM266 401h1v1h-1zM270 401h1v1h-1zM274 401h1v1h-1zM278 401h1v1h-1zM282 401h1v1h-1zM286 401h1v1h-1zM290 401h1v1h-1zM294 401h1v1h-1zM298 401h1v1h-1zM302 401h1v1h-1zM306 401h1v1h-1zM310 401h1v1h-1zM314 401h1v1h-1zM318 401h1v1h-1zM322 401h1v1h-1zM326 401h1v1h-1zM330 401h1v1h-1zM334 401h1v1h-1zM338 401h1v1h-1zM342 401h1v1h-1zM346 401h1v1h-1zM350 401h1v1h-1zM354 401h1v1h-1zM358 401h1v1h-1zM362 401h1v1h-1zM366 401h1v1h-1zM370 401h1v1h-1zM374 401h1v1h-1zM378 401h1v1h-1zM382 401h1v1h-1zM386 401h1v1h-1zM390 401h1v1h-1zM394 401h1v1h-1zM398 401h1v1h-1zM402 401h1v1h-1zM406 401h1v1h-1zM410 401h1v1h-1zM414 401h1v1h-1zM418 401h1v1h-1zM422 401h1v1h-1zM426 401h1v1h-1zM430 401h1v1h-1zM434 401h1v1h-1zM438 401h1v1h-1zM442 401h1v1h-1zM446 401h1v1h-1zM450 401h1v1h-1zM454 401h1v1h-1zM458 401h1v1h-1zM462 401h1v1h-1zM466 401h1v1h-1zM470 401h1v1h-1zM474 401h1v1h-1zM478 401h1v1h-1zM482 401h1v1h-1zM486 401h1v1h-1zM490 401h1v1h-1zM494 401h1v1h-1zM498 401h1v1h-1zM502 401h1v1h-1zM506 401h1v1h-1zM510 401h1v1h-1zM514 401h1v1h-1zM518 401h1v1h-1zM522 401h1v1h-1zM526 401h1v1h-1zM530 401h1v1h-1zM534 401h1v1h-1zM538 401h1v1h-1zM542 401h1v1h-1zM546 401h1v1h-1zM550 401h1v1h-1zM554 401h1v1h-1zM558 401h1v1h-1zM562 401h1v1h-1zM566 401h1v1h-1zM37 413h1v1h-1zM41 413h1v1h-1zM45 413h1v1h-1zM49 413h1v1h-1zM53 413h1v1h-1zM57 413h1v1h-1zM61 413h1v1h-1zM65 413h1v1h-1zM69 413h1v1h-1zM73 413h1v1h-1zM77 413h1v1h-1zM81 413h1v1h-1zM85 413h1v1h-1zM89 413h1v1h-1zM93 413h1v1h-1zM97 413h1v1h-1zM101 413h1v1h-1zM105 413h1v1h-1zM109 413h1v1h-1zM113 413h1v1h-1zM117 413h1v1h-1zM121 413h1v1h-1zM125 413h1v1h-1zM129 413h1v1h-1zM133 413h1v1h-1zM137 413h1v1h-1zM141 413h1v1h-1zM145 413h1v1h-1zM149 413h1v1h-1zM153 413h1v1h-1zM157 413h1v1h-1zM161 413h1v1h-1zM165 413h1v1h-1zM169 413h1v1h-1zM173 413h1v1h-1zM177 413h1v1h-1zM181 413h1v1h-1zM185 413h1v1h-1zM189 413h1v1h-1zM193 413h1v1h-1zM197 413h1v1h-1zM201 413h1v1h-1zM205 413h1v1h-1zM209 413h1v1h-1zM213 413h1v1h-1zM217 413h1v1h-1zM221 413h1v1h-1zM225 413h1v1h-1zM229 413h1v1h-1zM233 413h1v1h-1zM237 413h1v1h-1zM241 413h1v1h-1zM245 413h1v1h-1zM249 413h1v1h-1zM253 413h1v1h-1zM257 413h1v1h-1zM261 413h1v1h-1zM265 413h1v1h-1zM269 413h1v1h-1zM273 413h1v1h-1zM277 413h1v1h-1zM281 413h1v1h-1zM285 413h1v1h-1zM289 413h1v1h-1zM293 413h1v1h-1zM297 413h1v1h-1zM301 413h1v1h-1zM305 413h1v1h-1zM309 413h1v1h-1zM313 413h1v1h-1zM317 413h1v1h-1zM321 413h1v1h-1zM325 413h1v1h-1zM329 413h1v1h-1zM333 413h1v1h-1zM337 413h1v1h-1zM341 413h1v1h-1zM345 413h1v1h-1zM349 413h1v1h-1zM353 413h1v1h-1zM357 413h1v1h-1zM361 413h1v1h-1zM365 413h1v1h-1zM369 413h1v1h-1zM373 413h1v1h-1zM377 413h1v1h-1zM381 413h1v1h-1zM385 413h1v1h-1zM389 413h1v1h-1zM393 413h1v1h-1zM397 413h1v1h-1zM401 413h1v1h-1zM405 413h1v1h-1zM409 413h1v1h-1zM413 413h1v1h-1zM417 413h1v1h-1zM421 413h1v1h-1zM425 413h1v1h-1zM429 413h1v1h-1zM433 413h1v1h-1zM437 413h1v1h-1zM441 413h1v1h-1zM445 413h1v1h-1zM449 413h1v1h-1zM453 413h1v1h-1zM457 413h1v1h-1zM461 413h1v1h-1zM465 413h1v1h-1zM469 413h1v1h-1zM473 413h1v1h-1zM477 413h1v1h-1zM481 413h1v1h-1zM485 413h1v1h-1zM489 413h1v1h-1zM493 413h1v1h-1zM497 413h1v1h-1zM501 413h1v1h-1zM505 413h1v1h-1zM509 413h1v1h-1zM513 413h1v1h-1zM517 413h1v1h-1zM521 413h1v1h-1zM525 413h1v1h-1zM529 413h1v1h-1zM533 413h1v1h-1zM537 413h1v1h-1zM541 413h1v1h-1zM545 413h1v1h-1zM549 413h1v1h-1zM553 413h1v1h-1zM557 413h1v1h-1zM561 413h1v1h-1zM565 413h1v1h-1zM569 413h1v1h-1zM112 356h1v1h-1zM112 360h1v1h-1zM112 364h1v1h-1zM112 368h1v1h-1zM112 372h1v1h-1zM112 376h1v1h-1zM112 380h1v1h-1zM112 384h1v1h-1zM112 388h1v1h-1zM112 392h1v1h-1zM112 396h1v1h-1zM112 400h1v1h-1zM112 404h1v1h-1zM112 408h1v1h-1zM112 412h1v1h-1zM112 416h1v1h-1zM112 420h1v1h-1zM112 424h1v1h-1zM112 428h1v1h-1zM112 432h1v1h-1zM112 436h1v1h-1zM112 440h1v1h-1zM112 444h1v1h-1zM112 448h1v1h-1zM112 452h1v1h-1zM112 456h1v1h-1zM189 359h1v1h-1zM189 363h1v1h-1zM189 367h1v1h-1zM189 371h1v1h-1zM189 375h1v1h-1zM189 379h1v1h-1zM189 383h1v1h-1zM189 387h1v1h-1zM189 391h1v1h-1zM189 395h1v1h-1zM189 399h1v1h-1zM189 403h1v1h-1zM189 407h1v1h-1zM189 411h1v1h-1zM189 415h1v1h-1zM189 419h1v1h-1zM189 423h1v1h-1zM189 427h1v1h-1zM189 431h1v1h-1zM189 435h1v1h-1zM189 439h1v1h-1zM189 443h1v1h-1zM189 447h1v1h-1zM189 451h1v1h-1zM189 455h1v1h-1zM265 358h1v1h-1zM265 362h1v1h-1zM265 366h1v1h-1zM265 370h1v1h-1zM265 374h1v1h-1zM265 378h1v1h-1zM265 382h1v1h-1zM265 386h1v1h-1zM265 390h1v1h-1zM265 394h1v1h-1zM265 398h1v1h-1zM265 402h1v1h-1zM265 406h1v1h-1zM265 410h1v1h-1zM265 414h1v1h-1zM265 418h1v1h-1zM265 422h1v1h-1zM265 426h1v1h-1zM265 430h1v1h-1zM265 434h1v1h-1zM265 438h1v1h-1zM265 442h1v1h-1zM265 446h1v1h-1zM265 450h1v1h-1zM265 454h1v1h-1zM341 357h1v1h-1zM341 361h1v1h-1zM341 365h1v1h-1zM341 369h1v1h-1zM341 373h1v1h-1zM341 377h1v1h-1zM341 381h1v1h-1zM341 385h1v1h-1zM341 389h1v1h-1zM341 393h1v1h-1zM341 397h1v1h-1zM341 401h1v1h-1zM341 405h1v1h-1zM341 409h1v1h-1zM341 413h1v1h-1zM341 417h1v1h-1zM341 421h1v1h-1zM341 425h1v1h-1zM341 429h1v1h-1zM341 433h1v1h-1zM341 437h1v1h-1zM341 441h1v1h-1zM341 445h1v1h-1zM341 449h1v1h-1zM341 453h1v1h-1zM341 457h1v1h-1zM417 356h1v1h-1zM417 360h1v1h-1zM417 364h1v1h-1zM417 368h1v1h-1zM417 372h1v1h-1zM417 376h1v1h-1zM417 380h1v1h-1zM417 384h1v1h-1zM417 388h1v1h-1zM417 392h1v1h-1zM417 396h1v1h-1zM417 400h1v1h-1zM417 404h1v1h-1zM417 408h1v1h-1zM417 412h1v1h-1zM417 416h1v1h-1zM417 420h1v1h-1zM417 424h1v1h-1zM417 428h1v1h-1zM417 432h1v1h-1zM417 436h1v1h-1zM417 440h1v1h-1zM417 444h1v1h-1zM417 448h1v1h-1zM417 452h1v1h-1zM417 456h1v1h-1zM494 359h1v1h-1zM494 363h1v1h-1zM494 367h1v1h-1zM494 371h1v1h-1zM494 375h1v1h-1zM494 379h1v1h-1zM494 383h1v1h-1zM494 387h1v1h-1zM494 391h1v1h-1zM494 395h1v1h-1zM494 399h1v1h-1zM494 403h1v1h-1zM494 407h1v1h-1zM494 411h1v1h-1zM494 415h1v1h-1zM494 419h1v1h-1zM494 423h1v1h-1zM494 427h1v1h-1zM494 431h1v1h-1zM494 435h1v1h-1zM494 439h1v1h-1zM494 443h1v1h-1zM494 447h1v1h-1zM494 451h1v1h-1zM494 455h1v1h-1zM570 358h1v1h-1zM570 362h1v1h-1zM570 366h1v1h-1zM570 370h1v1h-1zM570 374h1v1h-1zM570 378h1v1h-1zM570 382h1v1h-1zM570 386h1v1h-1zM570 390h1v1h-1zM570 394h1v1h-1zM570 398h1v1h-1zM570 402h1v1h-1zM570 406h1v1h-1zM570 410h1v1h-1zM570 414h1v1h-1zM570 418h1v1h-1zM570 422h1v1h-1zM570 426h1v1h-1zM570 430h1v1h-1zM570 434h1v1h-1zM570 438h1v1h-1zM570 442h1v1h-1zM570 446h1v1h-1zM570 450h1v1h-1zM570 454h1v1h-1z" fill="#808080"/>
<text x="30.5" y="458.5" font-size="9.8" text-anchor="middle">0</text>
<text x="30.5" y="450.5" font-size="9.8" text-anchor="middle">1</text>
<text x="30.5" y="439.5" font-size="9.8" text-anchor="middle">2</text>
<text x="30.5" y="427.5" font-size="9.8" text-anchor="middle">3</text>
<text x="30.5" y="416.5" font-size="9.8" text-anchor="middle">4</text>
<text x="30.5" y="405.5" font-size="9.8" text-anchor="middle">5</text>
<text x="30.5" y="393.5" font-size="9.8" text-anchor="middle">6</text>
<text x="30.5" y="382.5" font-size="9.8" text-anchor="middle">7</text>
<text x="30.5" y="371.5" font-size="9.8" text-anchor="middle">8</text>
<text x="30.5" y="362.5" font-size="9.8" text-anchor="middle">9</text>
<text x="0" y="0" transform="translate(13,429.0) rotate(-90)" font-size="13.1" textLength="43.0" lengthAdjust="spacingAndGlyphs" stroke="#fff" stroke-width="0.1">College</text>
<text x="0.0" y="15" font-size="14.5" font-family="Liberation Sans" font-weight="normal" textLength="255.0" lengthAdjust="spacingAndGlyphs" stroke="#fff" stroke-width="0.27">3–hour K–indices for Last 7 days</text>
<text x="336.0" y="15" font-size="11.6" font-family="Liberation Sans" font-weight="normal" textLength="41.0" lengthAdjust="spacingAndGlyphs">Legend:</text>
<rect x="384" y="5" width="13" height="10" fill="#009000"/>
<text x="403.0" y="15" font-size="11.6" font-family="Liberation Sans" font-weight="normal" textLength="22.0" lengthAdjust="spacingAndGlyphs">0–3</text>
<rect x="444" y="5" width="13" height="10" fill="#f2be00"/>
<text x="463.0" y="15" font-size="11.6" font-family="Liberation Sans" font-weight="normal" textLength="7.0" lengthAdjust="spacingAndGlyphs">4</text>
<rect x="486" y="5" width="13" height="10" fill="#ff0000"/>
<text x="504.0" y="15" font-size="11.6" font-family="Liberation Sans" font-weight="normal" textLength="18.0" lengthAdjust="spacingAndGlyphs">5,6</text>
<rect x="546" y="5" width="13" height="10" fill="#400080"/>
<text x="564.0" y="15" font-size="11.6" font-family="Liberation Sans" font-weight="normal" textLength="24.0" lengthAdjust="spacingAndGlyphs">7–9</text>
<text x="18.0" y="473" font-size="11.6" font-family="Liberation Sans" font-weight="normal" textLength="38.0" lengthAdjust="spacingAndGlyphs" stroke="#fff" stroke-width="0.05">Jan 14</text>
<text x="94.0" y="473" font-size="11.6" font-family="Liberation Sans" font-weight="normal" textLength="37.0" lengthAdjust="spacingAndGlyphs" stroke="#fff" stroke-width="0.05">Jan 15</text>
<text x="171.0" y="473" font-size="11.6" font-family="Liberation Sans" font-weight="normal" textLength="37.0" lengthAdjust="spacingAndGlyphs" stroke="#fff" stroke-width="0.05">Jan 16</text>
<text x="247.0" y="473" font-size="11.6" font-family="Liberation Sans" font-weight="normal" textLength="37.0" lengthAdjust="spacingAndGlyphs" stroke="#fff" stroke-width="0.05">Jan 17</text>
<text x="323.0" y="473" font-size="11.6" font-family="Liberation Sans" font-weight="normal" textLength="37.0" lengthAdjust="spacingAndGlyphs" stroke="#fff" stroke-width="0.05">Jan 18</text>
<text x="399.0" y="473" font-size="11.6" font-family="Liberation Sans" font-weight="normal" textLength="37.0" lengthAdjust="spacingAndGlyphs" stroke="#fff" stroke-width="0.05">Jan 19</text>
<text x="476.0" y="473" font-size="11.6" font-family="Liberation Sans" font-weight="normal" textLength="37.0" lengthAdjust="spacingAndGlyphs" stroke="#fff" stroke-width="0.05">Jan 20</text>
<text x="552.0" y="473" font-size="11.6" font-family="Liberation Sans" font-weight="normal" textLength="38.0" lengthAdjust="spacingAndGlyphs" stroke="#fff" stroke-width="0.05">Jan 21</text>
<text x="192.0" y="490" font-size="14.5" font-family="Liberation Sans" font-weight="normal" textLength="217.0" lengthAdjust="spacingAndGlyphs" stroke="#fff" stroke-width="0.18">Coordinate Universal Time (UTC)</text>
<text x="0.0" y="504" font-size="13.2" font-family="Liberation Serif" font-weight="bold" textLength="59.0" lengthAdjust="spacingAndGlyphs">Updated</text>
<text x="66.0" y="505" font-size="14.3" font-family="Liberation Sans" font-weight="normal" textLength="129.0" lengthAdjust="spacingAndGlyphs" stroke="#fff" stroke-width="0.22">2018 Jan 20 0030</text>
<text x="404.0" y="505" font-size="14.5" font-family="Liberation Sans" font-weight="normal" textLength="198.0" lengthAdjust="spacingAndGlyphs" stroke="#fff" stroke-width="0.17">NOAA/SWPC Boulder, CO USA</text>
</svg>
</body></html>
